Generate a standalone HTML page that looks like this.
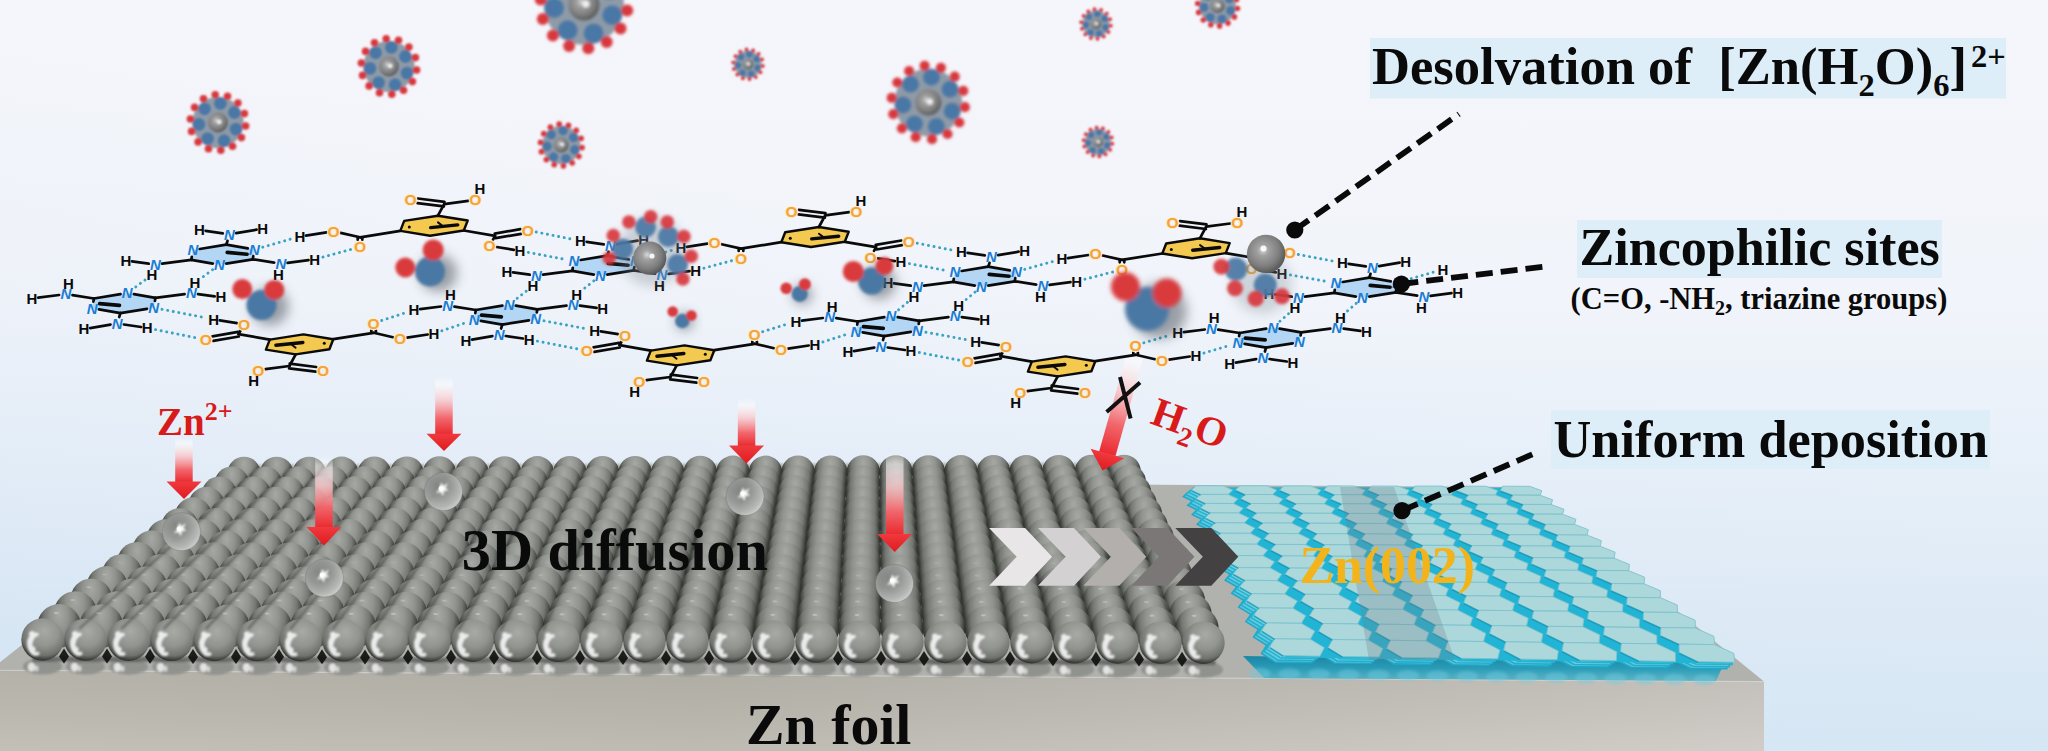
<!DOCTYPE html><html><head><meta charset="utf-8"><title>Zn anode interphase schematic</title><style>html,body{margin:0;padding:0;background:#f6f7fb;overflow:hidden}svg{display:block}</style></head><body><svg width="2048" height="751" viewBox="0 0 2048 751"><defs>
<linearGradient id="bg" x1="0" y1="0" x2="0" y2="1">
<stop offset="0" stop-color="#f5f6fb"/><stop offset="0.4" stop-color="#f1f4fa"/><stop offset="0.6" stop-color="#e8f0f9"/><stop offset="0.8" stop-color="#dfebf6"/><stop offset="1" stop-color="#d7e8f5"/>
</linearGradient>
<linearGradient id="bgl" x1="0" y1="1" x2="0.45" y2="0.3">
<stop offset="0" stop-color="#c4d8ee" stop-opacity="0.3"/><stop offset="0.45" stop-color="#c4d8ee" stop-opacity="0.12"/><stop offset="1" stop-color="#c4d8ee" stop-opacity="0"/>
</linearGradient>
<radialGradient id="sp" cx="0.5" cy="0.3" r="0.62" fx="0.5" fy="0.24" gradientTransform="translate(0.5 0.3) scale(0.8 1.4) translate(-0.5 -0.3)">
<stop offset="0" stop-color="#a6a8a4"/><stop offset="0.4" stop-color="#929490"/><stop offset="0.7" stop-color="#767874"/><stop offset="0.88" stop-color="#525450"/><stop offset="1" stop-color="#343632"/>
</radialGradient>
<radialGradient id="spf" cx="0.55" cy="0.35" r="0.65" fx="0.55" fy="0.3">
<stop offset="0" stop-color="#a8aaa6"/><stop offset="0.5" stop-color="#929490"/><stop offset="0.82" stop-color="#70726e"/><stop offset="1" stop-color="#30322e"/>
</radialGradient>
<radialGradient id="fl" cx="0.36" cy="0.34" r="0.8">
<stop offset="0" stop-color="#848684"/><stop offset="0.4" stop-color="#979997"/><stop offset="0.72" stop-color="#b6b8b6"/><stop offset="1" stop-color="#e2e4e2"/>
</radialGradient>
<radialGradient id="zn" cx="0.42" cy="0.4" r="0.6">
<stop offset="0" stop-color="#d8d8d8"/><stop offset="0.25" stop-color="#a0a0a0"/><stop offset="0.7" stop-color="#7e7e7e"/><stop offset="1" stop-color="#5a5a5a"/>
</radialGradient>
<linearGradient id="ar" x1="0" y1="0" x2="0" y2="1">
<stop offset="0" stop-color="#ffffff" stop-opacity="0"/><stop offset="0.14" stop-color="#ffffff" stop-opacity="0.5"/><stop offset="0.42" stop-color="#f9c4c7" stop-opacity="0.8"/><stop offset="0.72" stop-color="#f26469" stop-opacity="0.97"/><stop offset="1" stop-color="#ea2a30"/>
</linearGradient>
<linearGradient id="arh" x1="0" y1="0" x2="0" y2="1">
<stop offset="0" stop-color="#ef3a3e"/><stop offset="1" stop-color="#e01a20"/>
</linearGradient>
<linearGradient id="front" x1="0" y1="0" x2="1" y2="0">
<stop offset="0" stop-color="#c0bdb4"/><stop offset="0.4" stop-color="#bbb8af"/><stop offset="0.75" stop-color="#c6c3bc"/><stop offset="1" stop-color="#cfccc6"/>
</linearGradient>
<linearGradient id="frontv" x1="0" y1="0" x2="0" y2="1">
<stop offset="0" stop-color="#000" stop-opacity="0.06"/><stop offset="1" stop-color="#fff" stop-opacity="0.08"/>
</linearGradient>
<linearGradient id="band" x1="0" y1="0" x2="0" y2="1"><stop offset="0" stop-color="#1c86a4"/><stop offset="0.5" stop-color="#2a9cb8"/><stop offset="1" stop-color="#4fb4c9" stop-opacity="0.85"/></linearGradient>
<filter id="b1" x="-20%" y="-20%" width="140%" height="140%"><feGaussianBlur stdDeviation="0.9"/></filter>
<filter id="b2" x="-30%" y="-30%" width="160%" height="160%"><feGaussianBlur stdDeviation="2.2"/></filter>
<filter id="b3" x="-30%" y="-30%" width="160%" height="160%"><feGaussianBlur stdDeviation="1.4"/></filter>
<filter id="b6" x="-50%" y="-50%" width="200%" height="200%"><feGaussianBlur stdDeviation="6"/></filter>
</defs>
<rect width="2048" height="751" fill="url(#bg)"/><rect width="2048" height="751" fill="url(#bgl)"/>
<g filter="url(#b3)"><circle cx="584" cy="5" r="40" fill="#8592a0" opacity="0.92"/><circle cx="612.2" cy="15.3" r="10" fill="#4878a6"/><circle cx="593.6" cy="33.4" r="10" fill="#4878a6"/><circle cx="567.7" cy="30.2" r="10" fill="#4878a6"/><circle cx="554.1" cy="8" r="10" fill="#4878a6"/><circle cx="563.1" cy="-16.5" r="10" fill="#4878a6"/><circle cx="587.7" cy="-24.8" r="10" fill="#4878a6"/><circle cx="609.6" cy="-10.6" r="10" fill="#4878a6"/><circle cx="627.2" cy="10.4" r="6" fill="#d8383c"/><circle cx="620.5" cy="28.6" r="6" fill="#d8383c"/><circle cx="606.7" cy="42.1" r="6" fill="#d8383c"/><circle cx="588.3" cy="48.3" r="6" fill="#d8383c"/><circle cx="569.1" cy="45.9" r="6" fill="#d8383c"/><circle cx="552.9" cy="35.4" r="6" fill="#d8383c"/><circle cx="542.8" cy="18.9" r="6" fill="#d8383c"/><circle cx="540.8" cy="-0.4" r="6" fill="#d8383c"/><circle cx="547.5" cy="-18.6" r="6" fill="#d8383c"/><circle cx="561.3" cy="-32.1" r="6" fill="#d8383c"/><circle cx="579.7" cy="-38.3" r="6" fill="#d8383c"/><circle cx="598.9" cy="-35.9" r="6" fill="#d8383c"/><circle cx="615.1" cy="-25.4" r="6" fill="#d8383c"/><circle cx="625.2" cy="-8.9" r="6" fill="#d8383c"/><circle cx="584" cy="5" r="15.5" fill="url(#zn)"/><circle cx="586" cy="4" r="3.5" fill="#fff" opacity="0.85"/></g>
<g filter="url(#b1)"><circle cx="218" cy="122.5" r="25.6" fill="#8592a0" opacity="0.92"/><circle cx="236" cy="129.1" r="6.4" fill="#4878a6"/><circle cx="224.1" cy="140.7" r="6.4" fill="#4878a6"/><circle cx="207.6" cy="138.6" r="6.4" fill="#4878a6"/><circle cx="198.9" cy="124.4" r="6.4" fill="#4878a6"/><circle cx="204.6" cy="108.8" r="6.4" fill="#4878a6"/><circle cx="220.4" cy="103.4" r="6.4" fill="#4878a6"/><circle cx="234.4" cy="112.5" r="6.4" fill="#4878a6"/><circle cx="245.6" cy="126" r="3.8" fill="#d8383c"/><circle cx="241.4" cy="137.6" r="3.8" fill="#d8383c"/><circle cx="232.5" cy="146.3" r="3.8" fill="#d8383c"/><circle cx="220.8" cy="150.2" r="3.8" fill="#d8383c"/><circle cx="208.5" cy="148.7" r="3.8" fill="#d8383c"/><circle cx="198.1" cy="141.9" r="3.8" fill="#d8383c"/><circle cx="191.6" cy="131.4" r="3.8" fill="#d8383c"/><circle cx="190.4" cy="119" r="3.8" fill="#d8383c"/><circle cx="194.6" cy="107.4" r="3.8" fill="#d8383c"/><circle cx="203.5" cy="98.7" r="3.8" fill="#d8383c"/><circle cx="215.2" cy="94.8" r="3.8" fill="#d8383c"/><circle cx="227.5" cy="96.3" r="3.8" fill="#d8383c"/><circle cx="237.9" cy="103.1" r="3.8" fill="#d8383c"/><circle cx="244.4" cy="113.6" r="3.8" fill="#d8383c"/><circle cx="218" cy="122.5" r="9.9" fill="url(#zn)"/><circle cx="219.3" cy="121.9" r="2.2" fill="#fff" opacity="0.85"/></g>
<g filter="url(#b1)"><circle cx="389" cy="66.5" r="25.6" fill="#8592a0" opacity="0.92"/><circle cx="407" cy="73.1" r="6.4" fill="#4878a6"/><circle cx="395.1" cy="84.7" r="6.4" fill="#4878a6"/><circle cx="378.6" cy="82.6" r="6.4" fill="#4878a6"/><circle cx="369.9" cy="68.4" r="6.4" fill="#4878a6"/><circle cx="375.6" cy="52.8" r="6.4" fill="#4878a6"/><circle cx="391.4" cy="47.4" r="6.4" fill="#4878a6"/><circle cx="405.4" cy="56.5" r="6.4" fill="#4878a6"/><circle cx="416.6" cy="70" r="3.8" fill="#d8383c"/><circle cx="412.4" cy="81.6" r="3.8" fill="#d8383c"/><circle cx="403.5" cy="90.3" r="3.8" fill="#d8383c"/><circle cx="391.8" cy="94.2" r="3.8" fill="#d8383c"/><circle cx="379.5" cy="92.7" r="3.8" fill="#d8383c"/><circle cx="369.1" cy="85.9" r="3.8" fill="#d8383c"/><circle cx="362.6" cy="75.4" r="3.8" fill="#d8383c"/><circle cx="361.4" cy="63" r="3.8" fill="#d8383c"/><circle cx="365.6" cy="51.4" r="3.8" fill="#d8383c"/><circle cx="374.5" cy="42.7" r="3.8" fill="#d8383c"/><circle cx="386.2" cy="38.8" r="3.8" fill="#d8383c"/><circle cx="398.5" cy="40.3" r="3.8" fill="#d8383c"/><circle cx="408.9" cy="47.1" r="3.8" fill="#d8383c"/><circle cx="415.4" cy="57.6" r="3.8" fill="#d8383c"/><circle cx="389" cy="66.5" r="9.9" fill="url(#zn)"/><circle cx="390.3" cy="65.9" r="2.2" fill="#fff" opacity="0.85"/></g>
<g filter="url(#b1)"><circle cx="748" cy="64.3" r="13.6" fill="#8592a0" opacity="0.92"/><circle cx="757.6" cy="67.8" r="3.4" fill="#4878a6"/><circle cx="751.2" cy="74" r="3.4" fill="#4878a6"/><circle cx="742.5" cy="72.9" r="3.4" fill="#4878a6"/><circle cx="737.9" cy="65.3" r="3.4" fill="#4878a6"/><circle cx="740.9" cy="57" r="3.4" fill="#4878a6"/><circle cx="749.3" cy="54.2" r="3.4" fill="#4878a6"/><circle cx="756.7" cy="59" r="3.4" fill="#4878a6"/><circle cx="762.7" cy="66.1" r="2" fill="#d8383c"/><circle cx="760.4" cy="72.3" r="2" fill="#d8383c"/><circle cx="755.7" cy="76.9" r="2" fill="#d8383c"/><circle cx="749.5" cy="79" r="2" fill="#d8383c"/><circle cx="742.9" cy="78.2" r="2" fill="#d8383c"/><circle cx="737.4" cy="74.6" r="2" fill="#d8383c"/><circle cx="734" cy="69" r="2" fill="#d8383c"/><circle cx="733.3" cy="62.5" r="2" fill="#d8383c"/><circle cx="735.6" cy="56.3" r="2" fill="#d8383c"/><circle cx="740.3" cy="51.7" r="2" fill="#d8383c"/><circle cx="746.5" cy="49.6" r="2" fill="#d8383c"/><circle cx="753.1" cy="50.4" r="2" fill="#d8383c"/><circle cx="758.6" cy="54" r="2" fill="#d8383c"/><circle cx="762" cy="59.6" r="2" fill="#d8383c"/><circle cx="748" cy="64.3" r="5.3" fill="url(#zn)"/><circle cx="748.7" cy="64" r="1.2" fill="#fff" opacity="0.85"/></g>
<g filter="url(#b1)"><circle cx="561.3" cy="145" r="19.2" fill="#8592a0" opacity="0.92"/><circle cx="574.8" cy="149.9" r="4.8" fill="#4878a6"/><circle cx="565.9" cy="158.7" r="4.8" fill="#4878a6"/><circle cx="553.5" cy="157.1" r="4.8" fill="#4878a6"/><circle cx="547" cy="146.4" r="4.8" fill="#4878a6"/><circle cx="551.2" cy="134.7" r="4.8" fill="#4878a6"/><circle cx="563.1" cy="130.7" r="4.8" fill="#4878a6"/><circle cx="573.6" cy="137.5" r="4.8" fill="#4878a6"/><circle cx="582" cy="147.6" r="2.9" fill="#d8383c"/><circle cx="578.8" cy="156.3" r="2.9" fill="#d8383c"/><circle cx="572.2" cy="162.8" r="2.9" fill="#d8383c"/><circle cx="563.4" cy="165.8" r="2.9" fill="#d8383c"/><circle cx="554.2" cy="164.6" r="2.9" fill="#d8383c"/><circle cx="546.4" cy="159.6" r="2.9" fill="#d8383c"/><circle cx="541.5" cy="151.7" r="2.9" fill="#d8383c"/><circle cx="540.6" cy="142.4" r="2.9" fill="#d8383c"/><circle cx="543.8" cy="133.7" r="2.9" fill="#d8383c"/><circle cx="550.4" cy="127.2" r="2.9" fill="#d8383c"/><circle cx="559.2" cy="124.2" r="2.9" fill="#d8383c"/><circle cx="568.4" cy="125.4" r="2.9" fill="#d8383c"/><circle cx="576.2" cy="130.4" r="2.9" fill="#d8383c"/><circle cx="581.1" cy="138.3" r="2.9" fill="#d8383c"/><circle cx="561.3" cy="145" r="7.4" fill="url(#zn)"/><circle cx="562.3" cy="144.5" r="1.7" fill="#fff" opacity="0.85"/></g>
<g filter="url(#b3)"><circle cx="928.3" cy="102.5" r="33.9" fill="#8592a0" opacity="0.92"/><circle cx="952.2" cy="111.2" r="8.5" fill="#4878a6"/><circle cx="936.4" cy="126.6" r="8.5" fill="#4878a6"/><circle cx="914.5" cy="123.9" r="8.5" fill="#4878a6"/><circle cx="903" cy="105" r="8.5" fill="#4878a6"/><circle cx="910.5" cy="84.3" r="8.5" fill="#4878a6"/><circle cx="931.5" cy="77.3" r="8.5" fill="#4878a6"/><circle cx="950" cy="89.2" r="8.5" fill="#4878a6"/><circle cx="964.9" cy="107.1" r="5.1" fill="#d8383c"/><circle cx="959.3" cy="122.5" r="5.1" fill="#d8383c"/><circle cx="947.5" cy="134" r="5.1" fill="#d8383c"/><circle cx="932" cy="139.2" r="5.1" fill="#d8383c"/><circle cx="915.7" cy="137.2" r="5.1" fill="#d8383c"/><circle cx="901.9" cy="128.3" r="5.1" fill="#d8383c"/><circle cx="893.3" cy="114.2" r="5.1" fill="#d8383c"/><circle cx="891.7" cy="97.9" r="5.1" fill="#d8383c"/><circle cx="897.3" cy="82.5" r="5.1" fill="#d8383c"/><circle cx="909.1" cy="71" r="5.1" fill="#d8383c"/><circle cx="924.6" cy="65.8" r="5.1" fill="#d8383c"/><circle cx="940.9" cy="67.8" r="5.1" fill="#d8383c"/><circle cx="954.7" cy="76.7" r="5.1" fill="#d8383c"/><circle cx="963.3" cy="90.8" r="5.1" fill="#d8383c"/><circle cx="928.3" cy="102.5" r="13.1" fill="url(#zn)"/><circle cx="930" cy="101.7" r="3" fill="#fff" opacity="0.85"/></g>
<g filter="url(#b1)"><circle cx="1098" cy="142" r="13.2" fill="#8592a0" opacity="0.92"/><circle cx="1107.3" cy="145.4" r="3.3" fill="#4878a6"/><circle cx="1101.2" cy="151.4" r="3.3" fill="#4878a6"/><circle cx="1092.6" cy="150.3" r="3.3" fill="#4878a6"/><circle cx="1088.1" cy="143" r="3.3" fill="#4878a6"/><circle cx="1091.1" cy="134.9" r="3.3" fill="#4878a6"/><circle cx="1099.2" cy="132.2" r="3.3" fill="#4878a6"/><circle cx="1106.4" cy="136.8" r="3.3" fill="#4878a6"/><circle cx="1112.2" cy="143.8" r="2" fill="#d8383c"/><circle cx="1110.1" cy="149.8" r="2" fill="#d8383c"/><circle cx="1105.5" cy="154.2" r="2" fill="#d8383c"/><circle cx="1099.4" cy="156.3" r="2" fill="#d8383c"/><circle cx="1093.1" cy="155.5" r="2" fill="#d8383c"/><circle cx="1087.7" cy="152" r="2" fill="#d8383c"/><circle cx="1084.4" cy="146.6" r="2" fill="#d8383c"/><circle cx="1083.8" cy="140.2" r="2" fill="#d8383c"/><circle cx="1085.9" cy="134.2" r="2" fill="#d8383c"/><circle cx="1090.5" cy="129.8" r="2" fill="#d8383c"/><circle cx="1096.6" cy="127.7" r="2" fill="#d8383c"/><circle cx="1102.9" cy="128.5" r="2" fill="#d8383c"/><circle cx="1108.3" cy="132" r="2" fill="#d8383c"/><circle cx="1111.6" cy="137.4" r="2" fill="#d8383c"/><circle cx="1098" cy="142" r="5.1" fill="url(#zn)"/><circle cx="1098.7" cy="141.7" r="1.2" fill="#fff" opacity="0.85"/></g>
<g filter="url(#b1)"><circle cx="1096" cy="24" r="13.6" fill="#8592a0" opacity="0.92"/><circle cx="1105.6" cy="27.5" r="3.4" fill="#4878a6"/><circle cx="1099.2" cy="33.7" r="3.4" fill="#4878a6"/><circle cx="1090.5" cy="32.6" r="3.4" fill="#4878a6"/><circle cx="1085.9" cy="25" r="3.4" fill="#4878a6"/><circle cx="1088.9" cy="16.7" r="3.4" fill="#4878a6"/><circle cx="1097.3" cy="13.9" r="3.4" fill="#4878a6"/><circle cx="1104.7" cy="18.7" r="3.4" fill="#4878a6"/><circle cx="1110.7" cy="25.8" r="2" fill="#d8383c"/><circle cx="1108.4" cy="32" r="2" fill="#d8383c"/><circle cx="1103.7" cy="36.6" r="2" fill="#d8383c"/><circle cx="1097.5" cy="38.7" r="2" fill="#d8383c"/><circle cx="1090.9" cy="37.9" r="2" fill="#d8383c"/><circle cx="1085.4" cy="34.3" r="2" fill="#d8383c"/><circle cx="1082" cy="28.7" r="2" fill="#d8383c"/><circle cx="1081.3" cy="22.2" r="2" fill="#d8383c"/><circle cx="1083.6" cy="16" r="2" fill="#d8383c"/><circle cx="1088.3" cy="11.4" r="2" fill="#d8383c"/><circle cx="1094.5" cy="9.3" r="2" fill="#d8383c"/><circle cx="1101.1" cy="10.1" r="2" fill="#d8383c"/><circle cx="1106.6" cy="13.7" r="2" fill="#d8383c"/><circle cx="1110" cy="19.3" r="2" fill="#d8383c"/><circle cx="1096" cy="24" r="5.3" fill="url(#zn)"/><circle cx="1096.7" cy="23.7" r="1.2" fill="#fff" opacity="0.85"/></g>
<g filter="url(#b1)"><circle cx="1217.6" cy="6" r="18.4" fill="#8592a0" opacity="0.92"/><circle cx="1230.6" cy="10.7" r="4.6" fill="#4878a6"/><circle cx="1222" cy="19.1" r="4.6" fill="#4878a6"/><circle cx="1210.1" cy="17.6" r="4.6" fill="#4878a6"/><circle cx="1203.9" cy="7.4" r="4.6" fill="#4878a6"/><circle cx="1208" cy="-3.9" r="4.6" fill="#4878a6"/><circle cx="1219.3" cy="-7.7" r="4.6" fill="#4878a6"/><circle cx="1229.4" cy="-1.2" r="4.6" fill="#4878a6"/><circle cx="1237.5" cy="8.5" r="2.8" fill="#d8383c"/><circle cx="1234.4" cy="16.9" r="2.8" fill="#d8383c"/><circle cx="1228" cy="23.1" r="2.8" fill="#d8383c"/><circle cx="1219.6" cy="25.9" r="2.8" fill="#d8383c"/><circle cx="1210.8" cy="24.8" r="2.8" fill="#d8383c"/><circle cx="1203.3" cy="20" r="2.8" fill="#d8383c"/><circle cx="1198.6" cy="12.4" r="2.8" fill="#d8383c"/><circle cx="1197.7" cy="3.5" r="2.8" fill="#d8383c"/><circle cx="1200.8" cy="-4.9" r="2.8" fill="#d8383c"/><circle cx="1207.2" cy="-11.1" r="2.8" fill="#d8383c"/><circle cx="1215.6" cy="-13.9" r="2.8" fill="#d8383c"/><circle cx="1224.4" cy="-12.8" r="2.8" fill="#d8383c"/><circle cx="1231.9" cy="-8" r="2.8" fill="#d8383c"/><circle cx="1236.6" cy="-0.4" r="2.8" fill="#d8383c"/><circle cx="1217.6" cy="6" r="7.1" fill="url(#zn)"/><circle cx="1218.5" cy="5.5" r="1.6" fill="#fff" opacity="0.85"/></g>
<g id="slab">
<polygon points="-10,670.2 1764,681.6 1525,487 1120,484.5 230,480" fill="#b1b1ad"/>
<polygon points="-10,670.2 1764,681.6 1764,760 -10,760" fill="url(#front)"/>
<polygon points="-10,670.2 1764,681.6 1764,760 -10,760" fill="url(#frontv)"/>
<polyline points="-10,670.2 1764,681.6" stroke="#d6d5d0" stroke-width="1.2" fill="none" opacity="0.7"/>
<g filter="url(#b1)" opacity="0.92"><ellipse cx="42.5" cy="666.5" rx="19.5" ry="8" fill="#8e908c"/><ellipse cx="31.5" cy="667" rx="3.6" ry="4.6" fill="#f2f2f2" opacity="0.9"/><ellipse cx="36.5" cy="668.5" rx="2" ry="3" fill="#f2f2f2" opacity="0.7"/><ellipse cx="85.5" cy="666.6" rx="19.5" ry="8" fill="#8e908c"/><ellipse cx="74.5" cy="667.1" rx="3.6" ry="4.6" fill="#f2f2f2" opacity="0.9"/><ellipse cx="79.5" cy="668.6" rx="2" ry="3" fill="#f2f2f2" opacity="0.7"/><ellipse cx="128.5" cy="666.7" rx="19.5" ry="8" fill="#8e908c"/><ellipse cx="117.5" cy="667.2" rx="3.6" ry="4.6" fill="#f2f2f2" opacity="0.9"/><ellipse cx="122.5" cy="668.7" rx="2" ry="3" fill="#f2f2f2" opacity="0.7"/><ellipse cx="171.5" cy="666.8" rx="19.5" ry="8" fill="#8e908c"/><ellipse cx="160.5" cy="667.3" rx="3.6" ry="4.6" fill="#f2f2f2" opacity="0.9"/><ellipse cx="165.5" cy="668.8" rx="2" ry="3" fill="#f2f2f2" opacity="0.7"/><ellipse cx="214.5" cy="667" rx="19.5" ry="8" fill="#8e908c"/><ellipse cx="203.5" cy="667.5" rx="3.6" ry="4.6" fill="#f2f2f2" opacity="0.9"/><ellipse cx="208.5" cy="669" rx="2" ry="3" fill="#f2f2f2" opacity="0.7"/><ellipse cx="257.5" cy="667.1" rx="19.5" ry="8" fill="#8e908c"/><ellipse cx="246.5" cy="667.6" rx="3.6" ry="4.6" fill="#f2f2f2" opacity="0.9"/><ellipse cx="251.5" cy="669.1" rx="2" ry="3" fill="#f2f2f2" opacity="0.7"/><ellipse cx="300.5" cy="667.2" rx="19.5" ry="8" fill="#8e908c"/><ellipse cx="289.5" cy="667.7" rx="3.6" ry="4.6" fill="#f2f2f2" opacity="0.9"/><ellipse cx="294.5" cy="669.2" rx="2" ry="3" fill="#f2f2f2" opacity="0.7"/><ellipse cx="343.5" cy="667.3" rx="19.5" ry="8" fill="#8e908c"/><ellipse cx="332.5" cy="667.8" rx="3.6" ry="4.6" fill="#f2f2f2" opacity="0.9"/><ellipse cx="337.5" cy="669.3" rx="2" ry="3" fill="#f2f2f2" opacity="0.7"/><ellipse cx="386.5" cy="667.4" rx="19.5" ry="8" fill="#8e908c"/><ellipse cx="375.5" cy="667.9" rx="3.6" ry="4.6" fill="#f2f2f2" opacity="0.9"/><ellipse cx="380.5" cy="669.4" rx="2" ry="3" fill="#f2f2f2" opacity="0.7"/><ellipse cx="429.5" cy="667.6" rx="19.5" ry="8" fill="#8e908c"/><ellipse cx="418.5" cy="668.1" rx="3.6" ry="4.6" fill="#f2f2f2" opacity="0.9"/><ellipse cx="423.5" cy="669.6" rx="2" ry="3" fill="#f2f2f2" opacity="0.7"/><ellipse cx="472.5" cy="667.7" rx="19.5" ry="8" fill="#8e908c"/><ellipse cx="461.5" cy="668.2" rx="3.6" ry="4.6" fill="#f2f2f2" opacity="0.9"/><ellipse cx="466.5" cy="669.7" rx="2" ry="3" fill="#f2f2f2" opacity="0.7"/><ellipse cx="515.5" cy="667.8" rx="19.5" ry="8" fill="#8e908c"/><ellipse cx="504.5" cy="668.3" rx="3.6" ry="4.6" fill="#f2f2f2" opacity="0.9"/><ellipse cx="509.5" cy="669.8" rx="2" ry="3" fill="#f2f2f2" opacity="0.7"/><ellipse cx="558.5" cy="667.9" rx="19.5" ry="8" fill="#8e908c"/><ellipse cx="547.5" cy="668.4" rx="3.6" ry="4.6" fill="#f2f2f2" opacity="0.9"/><ellipse cx="552.5" cy="669.9" rx="2" ry="3" fill="#f2f2f2" opacity="0.7"/><ellipse cx="601.5" cy="668" rx="19.5" ry="8" fill="#8e908c"/><ellipse cx="590.5" cy="668.5" rx="3.6" ry="4.6" fill="#f2f2f2" opacity="0.9"/><ellipse cx="595.5" cy="670" rx="2" ry="3" fill="#f2f2f2" opacity="0.7"/><ellipse cx="644.5" cy="668.2" rx="19.5" ry="8" fill="#8e908c"/><ellipse cx="633.5" cy="668.7" rx="3.6" ry="4.6" fill="#f2f2f2" opacity="0.9"/><ellipse cx="638.5" cy="670.2" rx="2" ry="3" fill="#f2f2f2" opacity="0.7"/><ellipse cx="687.5" cy="668.3" rx="19.5" ry="8" fill="#8e908c"/><ellipse cx="676.5" cy="668.8" rx="3.6" ry="4.6" fill="#f2f2f2" opacity="0.9"/><ellipse cx="681.5" cy="670.3" rx="2" ry="3" fill="#f2f2f2" opacity="0.7"/><ellipse cx="730.5" cy="668.4" rx="19.5" ry="8" fill="#8e908c"/><ellipse cx="719.5" cy="668.9" rx="3.6" ry="4.6" fill="#f2f2f2" opacity="0.9"/><ellipse cx="724.5" cy="670.4" rx="2" ry="3" fill="#f2f2f2" opacity="0.7"/><ellipse cx="773.5" cy="668.5" rx="19.5" ry="8" fill="#8e908c"/><ellipse cx="762.5" cy="669" rx="3.6" ry="4.6" fill="#f2f2f2" opacity="0.9"/><ellipse cx="767.5" cy="670.5" rx="2" ry="3" fill="#f2f2f2" opacity="0.7"/><ellipse cx="816.5" cy="668.6" rx="19.5" ry="8" fill="#8e908c"/><ellipse cx="805.5" cy="669.1" rx="3.6" ry="4.6" fill="#f2f2f2" opacity="0.9"/><ellipse cx="810.5" cy="670.6" rx="2" ry="3" fill="#f2f2f2" opacity="0.7"/><ellipse cx="859.5" cy="668.8" rx="19.5" ry="8" fill="#8e908c"/><ellipse cx="848.5" cy="669.3" rx="3.6" ry="4.6" fill="#f2f2f2" opacity="0.9"/><ellipse cx="853.5" cy="670.8" rx="2" ry="3" fill="#f2f2f2" opacity="0.7"/><ellipse cx="902.5" cy="668.9" rx="19.5" ry="8" fill="#8e908c"/><ellipse cx="891.5" cy="669.4" rx="3.6" ry="4.6" fill="#f2f2f2" opacity="0.9"/><ellipse cx="896.5" cy="670.9" rx="2" ry="3" fill="#f2f2f2" opacity="0.7"/><ellipse cx="945.5" cy="669" rx="19.5" ry="8" fill="#8e908c"/><ellipse cx="934.5" cy="669.5" rx="3.6" ry="4.6" fill="#f2f2f2" opacity="0.9"/><ellipse cx="939.5" cy="671" rx="2" ry="3" fill="#f2f2f2" opacity="0.7"/><ellipse cx="988.5" cy="669.1" rx="19.5" ry="8" fill="#8e908c"/><ellipse cx="977.5" cy="669.6" rx="3.6" ry="4.6" fill="#f2f2f2" opacity="0.9"/><ellipse cx="982.5" cy="671.1" rx="2" ry="3" fill="#f2f2f2" opacity="0.7"/><ellipse cx="1031.5" cy="669.2" rx="19.5" ry="8" fill="#8e908c"/><ellipse cx="1020.5" cy="669.7" rx="3.6" ry="4.6" fill="#f2f2f2" opacity="0.9"/><ellipse cx="1025.5" cy="671.2" rx="2" ry="3" fill="#f2f2f2" opacity="0.7"/><ellipse cx="1074.5" cy="669.4" rx="19.5" ry="8" fill="#8e908c"/><ellipse cx="1063.5" cy="669.9" rx="3.6" ry="4.6" fill="#f2f2f2" opacity="0.9"/><ellipse cx="1068.5" cy="671.4" rx="2" ry="3" fill="#f2f2f2" opacity="0.7"/><ellipse cx="1117.5" cy="669.5" rx="19.5" ry="8" fill="#8e908c"/><ellipse cx="1106.5" cy="670" rx="3.6" ry="4.6" fill="#f2f2f2" opacity="0.9"/><ellipse cx="1111.5" cy="671.5" rx="2" ry="3" fill="#f2f2f2" opacity="0.7"/><ellipse cx="1160.5" cy="669.6" rx="19.5" ry="8" fill="#8e908c"/><ellipse cx="1149.5" cy="670.1" rx="3.6" ry="4.6" fill="#f2f2f2" opacity="0.9"/><ellipse cx="1154.5" cy="671.6" rx="2" ry="3" fill="#f2f2f2" opacity="0.7"/><ellipse cx="1203.5" cy="669.7" rx="19.5" ry="8" fill="#8e908c"/><ellipse cx="1192.5" cy="670.2" rx="3.6" ry="4.6" fill="#f2f2f2" opacity="0.9"/><ellipse cx="1197.5" cy="671.7" rx="2" ry="3" fill="#f2f2f2" opacity="0.7"/></g>
<polygon points="32.5,656.4 1215.5,659.8 1215.5,664.8 32.5,661.4" fill="#2a2c2a" opacity="0.5" filter="url(#b1)"/>
<g fill="url(#sp)"><circle cx="244" cy="473.6" r="16.8"/><circle cx="276.6" cy="473.5" r="16.8"/><circle cx="309.2" cy="473.5" r="16.8"/><circle cx="341.7" cy="473.4" r="16.8"/><circle cx="374.3" cy="473.3" r="16.8"/><circle cx="406.9" cy="473.2" r="16.8"/><circle cx="439.5" cy="473.1" r="16.8"/><circle cx="472.1" cy="473.1" r="16.8"/><circle cx="504.7" cy="473" r="16.8"/><circle cx="537.3" cy="472.9" r="16.8"/><circle cx="569.9" cy="472.8" r="16.8"/><circle cx="602.5" cy="472.8" r="16.8"/><circle cx="635.1" cy="472.7" r="16.8"/><circle cx="667.7" cy="472.6" r="16.8"/><circle cx="700.3" cy="472.5" r="16.8"/><circle cx="732.9" cy="472.4" r="16.8"/><circle cx="765.5" cy="472.4" r="16.8"/><circle cx="798.1" cy="472.3" r="16.8"/><circle cx="830.7" cy="472.2" r="16.8"/><circle cx="863.3" cy="472.1" r="16.8"/><circle cx="895.8" cy="472" r="16.8"/><circle cx="928.4" cy="472" r="16.8"/><circle cx="961" cy="471.9" r="16.8"/><circle cx="993.6" cy="471.8" r="16.8"/><circle cx="1026.2" cy="471.7" r="16.8"/><circle cx="1058.8" cy="471.7" r="16.8"/><circle cx="1091.4" cy="471.6" r="16.8"/><circle cx="1124" cy="471.5" r="16.8"/></g>
<g fill="url(#sp)"><circle cx="231.8" cy="483.7" r="17.2"/><circle cx="265" cy="483.6" r="17.2"/><circle cx="298.3" cy="483.5" r="17.2"/><circle cx="331.5" cy="483.5" r="17.2"/><circle cx="364.7" cy="483.4" r="17.2"/><circle cx="397.9" cy="483.3" r="17.2"/><circle cx="431.1" cy="483.3" r="17.2"/><circle cx="464.4" cy="483.2" r="17.2"/><circle cx="497.6" cy="483.1" r="17.2"/><circle cx="530.8" cy="483" r="17.2"/><circle cx="564" cy="483" r="17.2"/><circle cx="597.3" cy="482.9" r="17.2"/><circle cx="630.5" cy="482.8" r="17.2"/><circle cx="663.7" cy="482.8" r="17.2"/><circle cx="696.9" cy="482.7" r="17.2"/><circle cx="730.1" cy="482.6" r="17.2"/><circle cx="763.4" cy="482.6" r="17.2"/><circle cx="796.6" cy="482.5" r="17.2"/><circle cx="829.8" cy="482.4" r="17.2"/><circle cx="863" cy="482.4" r="17.2"/><circle cx="896.2" cy="482.3" r="17.2"/><circle cx="929.5" cy="482.2" r="17.2"/><circle cx="962.7" cy="482.1" r="17.2"/><circle cx="995.9" cy="482.1" r="17.2"/><circle cx="1029.1" cy="482" r="17.2"/><circle cx="1062.4" cy="481.9" r="17.2"/><circle cx="1095.6" cy="481.9" r="17.2"/><circle cx="1128.8" cy="481.8" r="17.2"/></g>
<g fill="url(#sp)"><circle cx="219.3" cy="494" r="17.5"/><circle cx="253.2" cy="493.9" r="17.5"/><circle cx="287.1" cy="493.9" r="17.5"/><circle cx="320.9" cy="493.8" r="17.5"/><circle cx="354.8" cy="493.8" r="17.5"/><circle cx="388.7" cy="493.7" r="17.5"/><circle cx="422.5" cy="493.6" r="17.5"/><circle cx="456.4" cy="493.6" r="17.5"/><circle cx="490.3" cy="493.5" r="17.5"/><circle cx="524.1" cy="493.5" r="17.5"/><circle cx="558" cy="493.4" r="17.5"/><circle cx="591.9" cy="493.3" r="17.5"/><circle cx="625.7" cy="493.3" r="17.5"/><circle cx="659.6" cy="493.2" r="17.5"/><circle cx="693.5" cy="493.2" r="17.5"/><circle cx="727.3" cy="493.1" r="17.5"/><circle cx="761.2" cy="493.1" r="17.5"/><circle cx="795.1" cy="493" r="17.5"/><circle cx="828.9" cy="492.9" r="17.5"/><circle cx="862.8" cy="492.9" r="17.5"/><circle cx="896.7" cy="492.8" r="17.5"/><circle cx="930.5" cy="492.8" r="17.5"/><circle cx="964.4" cy="492.7" r="17.5"/><circle cx="998.3" cy="492.6" r="17.5"/><circle cx="1032.1" cy="492.6" r="17.5"/><circle cx="1066" cy="492.5" r="17.5"/><circle cx="1099.9" cy="492.5" r="17.5"/><circle cx="1133.7" cy="492.4" r="17.5"/></g>
<g fill="url(#sp)"><circle cx="206.5" cy="504.6" r="17.8"/><circle cx="241" cy="504.6" r="17.8"/><circle cx="275.6" cy="504.5" r="17.8"/><circle cx="310.1" cy="504.5" r="17.8"/><circle cx="344.6" cy="504.4" r="17.8"/><circle cx="379.1" cy="504.4" r="17.8"/><circle cx="413.7" cy="504.3" r="17.8"/><circle cx="448.2" cy="504.3" r="17.8"/><circle cx="482.7" cy="504.2" r="17.8"/><circle cx="517.3" cy="504.2" r="17.8"/><circle cx="551.8" cy="504.1" r="17.8"/><circle cx="586.3" cy="504.1" r="17.8"/><circle cx="620.8" cy="504" r="17.8"/><circle cx="655.4" cy="504" r="17.8"/><circle cx="689.9" cy="503.9" r="17.8"/><circle cx="724.4" cy="503.9" r="17.8"/><circle cx="759" cy="503.8" r="17.8"/><circle cx="793.5" cy="503.8" r="17.8"/><circle cx="828" cy="503.7" r="17.8"/><circle cx="862.6" cy="503.7" r="17.8"/><circle cx="897.1" cy="503.6" r="17.8"/><circle cx="931.6" cy="503.6" r="17.8"/><circle cx="966.1" cy="503.5" r="17.8"/><circle cx="1000.7" cy="503.5" r="17.8"/><circle cx="1035.2" cy="503.4" r="17.8"/><circle cx="1069.7" cy="503.4" r="17.8"/><circle cx="1104.3" cy="503.3" r="17.8"/><circle cx="1138.8" cy="503.3" r="17.8"/></g>
<g fill="url(#sp)"><circle cx="193.3" cy="515.5" r="18.2"/><circle cx="228.5" cy="515.5" r="18.2"/><circle cx="263.7" cy="515.4" r="18.2"/><circle cx="298.9" cy="515.4" r="18.2"/><circle cx="334.2" cy="515.4" r="18.2"/><circle cx="369.4" cy="515.3" r="18.2"/><circle cx="404.6" cy="515.3" r="18.2"/><circle cx="439.8" cy="515.2" r="18.2"/><circle cx="475" cy="515.2" r="18.2"/><circle cx="510.2" cy="515.2" r="18.2"/><circle cx="545.4" cy="515.1" r="18.2"/><circle cx="580.6" cy="515.1" r="18.2"/><circle cx="615.8" cy="515" r="18.2"/><circle cx="651" cy="515" r="18.2"/><circle cx="686.3" cy="515" r="18.2"/><circle cx="721.5" cy="514.9" r="18.2"/><circle cx="756.7" cy="514.9" r="18.2"/><circle cx="791.9" cy="514.9" r="18.2"/><circle cx="827.1" cy="514.8" r="18.2"/><circle cx="862.3" cy="514.8" r="18.2"/><circle cx="897.5" cy="514.7" r="18.2"/><circle cx="932.7" cy="514.7" r="18.2"/><circle cx="967.9" cy="514.7" r="18.2"/><circle cx="1003.1" cy="514.6" r="18.2"/><circle cx="1038.4" cy="514.6" r="18.2"/><circle cx="1073.6" cy="514.5" r="18.2"/><circle cx="1108.8" cy="514.5" r="18.2"/><circle cx="1144" cy="514.5" r="18.2"/></g>
<g fill="url(#sp)"><circle cx="179.8" cy="526.7" r="18.5"/><circle cx="215.7" cy="526.6" r="18.5"/><circle cx="251.6" cy="526.6" r="18.5"/><circle cx="287.5" cy="526.6" r="18.5"/><circle cx="323.4" cy="526.6" r="18.5"/><circle cx="359.3" cy="526.5" r="18.5"/><circle cx="395.2" cy="526.5" r="18.5"/><circle cx="431.2" cy="526.5" r="18.5"/><circle cx="467.1" cy="526.5" r="18.5"/><circle cx="503" cy="526.4" r="18.5"/><circle cx="538.9" cy="526.4" r="18.5"/><circle cx="574.8" cy="526.4" r="18.5"/><circle cx="610.7" cy="526.4" r="18.5"/><circle cx="646.6" cy="526.3" r="18.5"/><circle cx="682.5" cy="526.3" r="18.5"/><circle cx="718.4" cy="526.3" r="18.5"/><circle cx="754.3" cy="526.2" r="18.5"/><circle cx="790.2" cy="526.2" r="18.5"/><circle cx="826.1" cy="526.2" r="18.5"/><circle cx="862.1" cy="526.2" r="18.5"/><circle cx="898" cy="526.1" r="18.5"/><circle cx="933.9" cy="526.1" r="18.5"/><circle cx="969.8" cy="526.1" r="18.5"/><circle cx="1005.7" cy="526.1" r="18.5"/><circle cx="1041.6" cy="526" r="18.5"/><circle cx="1077.5" cy="526" r="18.5"/><circle cx="1113.4" cy="526" r="18.5"/><circle cx="1149.3" cy="526" r="18.5"/></g>
<g fill="url(#sp)"><circle cx="165.9" cy="538.1" r="18.9"/><circle cx="202.5" cy="538.1" r="18.9"/><circle cx="239.2" cy="538.1" r="18.9"/><circle cx="275.8" cy="538.1" r="18.9"/><circle cx="312.4" cy="538.1" r="18.9"/><circle cx="349" cy="538" r="18.9"/><circle cx="385.7" cy="538" r="18.9"/><circle cx="422.3" cy="538" r="18.9"/><circle cx="458.9" cy="538" r="18.9"/><circle cx="495.5" cy="538" r="18.9"/><circle cx="532.2" cy="538" r="18.9"/><circle cx="568.8" cy="538" r="18.9"/><circle cx="605.4" cy="537.9" r="18.9"/><circle cx="642" cy="537.9" r="18.9"/><circle cx="678.7" cy="537.9" r="18.9"/><circle cx="715.3" cy="537.9" r="18.9"/><circle cx="751.9" cy="537.9" r="18.9"/><circle cx="788.5" cy="537.9" r="18.9"/><circle cx="825.2" cy="537.9" r="18.9"/><circle cx="861.8" cy="537.8" r="18.9"/><circle cx="898.4" cy="537.8" r="18.9"/><circle cx="935" cy="537.8" r="18.9"/><circle cx="971.7" cy="537.8" r="18.9"/><circle cx="1008.3" cy="537.8" r="18.9"/><circle cx="1044.9" cy="537.8" r="18.9"/><circle cx="1081.5" cy="537.8" r="18.9"/><circle cx="1118.2" cy="537.7" r="18.9"/><circle cx="1154.8" cy="537.7" r="18.9"/></g>
<g fill="url(#sp)"><circle cx="151.7" cy="549.8" r="19.3"/><circle cx="189.1" cy="549.8" r="19.3"/><circle cx="226.4" cy="549.8" r="19.3"/><circle cx="263.8" cy="549.8" r="19.3"/><circle cx="301.1" cy="549.8" r="19.3"/><circle cx="338.5" cy="549.8" r="19.3"/><circle cx="375.9" cy="549.8" r="19.3"/><circle cx="413.2" cy="549.8" r="19.3"/><circle cx="450.6" cy="549.8" r="19.3"/><circle cx="487.9" cy="549.8" r="19.3"/><circle cx="525.3" cy="549.8" r="19.3"/><circle cx="562.7" cy="549.8" r="19.3"/><circle cx="600" cy="549.8" r="19.3"/><circle cx="637.4" cy="549.8" r="19.3"/><circle cx="674.7" cy="549.8" r="19.3"/><circle cx="712.1" cy="549.8" r="19.3"/><circle cx="749.5" cy="549.8" r="19.3"/><circle cx="786.8" cy="549.8" r="19.3"/><circle cx="824.2" cy="549.8" r="19.3"/><circle cx="861.5" cy="549.8" r="19.3"/><circle cx="898.9" cy="549.8" r="19.3"/><circle cx="936.3" cy="549.8" r="19.3"/><circle cx="973.6" cy="549.8" r="19.3"/><circle cx="1011" cy="549.8" r="19.3"/><circle cx="1048.3" cy="549.8" r="19.3"/><circle cx="1085.7" cy="549.8" r="19.3"/><circle cx="1123.1" cy="549.8" r="19.3"/><circle cx="1160.4" cy="549.8" r="19.3"/></g>
<g fill="url(#sp)"><circle cx="137.1" cy="561.8" r="19.7"/><circle cx="175.2" cy="561.8" r="19.7"/><circle cx="213.4" cy="561.8" r="19.7"/><circle cx="251.5" cy="561.9" r="19.7"/><circle cx="289.6" cy="561.9" r="19.7"/><circle cx="327.7" cy="561.9" r="19.7"/><circle cx="365.8" cy="561.9" r="19.7"/><circle cx="403.9" cy="561.9" r="19.7"/><circle cx="442" cy="561.9" r="19.7"/><circle cx="480.1" cy="561.9" r="19.7"/><circle cx="518.3" cy="562" r="19.7"/><circle cx="556.4" cy="562" r="19.7"/><circle cx="594.5" cy="562" r="19.7"/><circle cx="632.6" cy="562" r="19.7"/><circle cx="670.7" cy="562" r="19.7"/><circle cx="708.8" cy="562" r="19.7"/><circle cx="746.9" cy="562" r="19.7"/><circle cx="785" cy="562.1" r="19.7"/><circle cx="823.2" cy="562.1" r="19.7"/><circle cx="861.3" cy="562.1" r="19.7"/><circle cx="899.4" cy="562.1" r="19.7"/><circle cx="937.5" cy="562.1" r="19.7"/><circle cx="975.6" cy="562.1" r="19.7"/><circle cx="1013.7" cy="562.1" r="19.7"/><circle cx="1051.8" cy="562.1" r="19.7"/><circle cx="1089.9" cy="562.2" r="19.7"/><circle cx="1128" cy="562.2" r="19.7"/><circle cx="1166.2" cy="562.2" r="19.7"/></g>
<g fill="url(#sp)"><circle cx="122.2" cy="574.1" r="20.1"/><circle cx="161.1" cy="574.1" r="20.1"/><circle cx="200" cy="574.1" r="20.1"/><circle cx="238.9" cy="574.2" r="20.1"/><circle cx="277.8" cy="574.2" r="20.1"/><circle cx="316.6" cy="574.2" r="20.1"/><circle cx="355.5" cy="574.3" r="20.1"/><circle cx="394.4" cy="574.3" r="20.1"/><circle cx="433.3" cy="574.3" r="20.1"/><circle cx="472.2" cy="574.3" r="20.1"/><circle cx="511" cy="574.4" r="20.1"/><circle cx="549.9" cy="574.4" r="20.1"/><circle cx="588.8" cy="574.4" r="20.1"/><circle cx="627.7" cy="574.5" r="20.1"/><circle cx="666.6" cy="574.5" r="20.1"/><circle cx="705.5" cy="574.5" r="20.1"/><circle cx="744.3" cy="574.5" r="20.1"/><circle cx="783.2" cy="574.6" r="20.1"/><circle cx="822.1" cy="574.6" r="20.1"/><circle cx="861" cy="574.6" r="20.1"/><circle cx="899.9" cy="574.7" r="20.1"/><circle cx="938.7" cy="574.7" r="20.1"/><circle cx="977.6" cy="574.7" r="20.1"/><circle cx="1016.5" cy="574.7" r="20.1"/><circle cx="1055.4" cy="574.8" r="20.1"/><circle cx="1094.3" cy="574.8" r="20.1"/><circle cx="1133.2" cy="574.8" r="20.1"/><circle cx="1172" cy="574.9" r="20.1"/></g>
<g fill="#e8e8e6" opacity="0.1"><ellipse cx="119.5" cy="562.3" rx="2.4" ry="1"/><ellipse cx="158.4" cy="562.4" rx="2.4" ry="1"/><ellipse cx="197.3" cy="562.4" rx="2.4" ry="1"/><ellipse cx="236.2" cy="562.4" rx="2.4" ry="1"/><ellipse cx="275" cy="562.4" rx="2.4" ry="1"/><ellipse cx="313.9" cy="562.5" rx="2.4" ry="1"/><ellipse cx="352.8" cy="562.5" rx="2.4" ry="1"/><ellipse cx="391.7" cy="562.5" rx="2.4" ry="1"/><ellipse cx="430.6" cy="562.6" rx="2.4" ry="1"/><ellipse cx="469.5" cy="562.6" rx="2.4" ry="1"/><ellipse cx="508.3" cy="562.6" rx="2.4" ry="1"/><ellipse cx="547.2" cy="562.6" rx="2.4" ry="1"/><ellipse cx="586.1" cy="562.7" rx="2.4" ry="1"/><ellipse cx="625" cy="562.7" rx="2.4" ry="1"/><ellipse cx="663.9" cy="562.7" rx="2.4" ry="1"/><ellipse cx="702.7" cy="562.8" rx="2.4" ry="1"/><ellipse cx="741.6" cy="562.8" rx="2.4" ry="1"/><ellipse cx="780.5" cy="562.8" rx="2.4" ry="1"/><ellipse cx="819.4" cy="562.8" rx="2.4" ry="1"/><ellipse cx="858.3" cy="562.9" rx="2.4" ry="1"/><ellipse cx="897.2" cy="562.9" rx="2.4" ry="1"/><ellipse cx="936" cy="562.9" rx="2.4" ry="1"/><ellipse cx="974.9" cy="563" rx="2.4" ry="1"/><ellipse cx="1013.8" cy="563" rx="2.4" ry="1"/><ellipse cx="1052.7" cy="563" rx="2.4" ry="1"/><ellipse cx="1091.6" cy="563.1" rx="2.4" ry="1"/><ellipse cx="1130.4" cy="563.1" rx="2.4" ry="1"/><ellipse cx="1169.3" cy="563.1" rx="2.4" ry="1"/></g>
<g fill="url(#sp)"><circle cx="107" cy="586.6" r="20.5"/><circle cx="146.6" cy="586.7" r="20.5"/><circle cx="186.3" cy="586.7" r="20.5"/><circle cx="226" cy="586.8" r="20.5"/><circle cx="265.7" cy="586.8" r="20.5"/><circle cx="305.3" cy="586.8" r="20.5"/><circle cx="345" cy="586.9" r="20.5"/><circle cx="384.7" cy="586.9" r="20.5"/><circle cx="424.3" cy="587" r="20.5"/><circle cx="464" cy="587" r="20.5"/><circle cx="503.7" cy="587.1" r="20.5"/><circle cx="543.3" cy="587.1" r="20.5"/><circle cx="583" cy="587.2" r="20.5"/><circle cx="622.7" cy="587.2" r="20.5"/><circle cx="662.4" cy="587.3" r="20.5"/><circle cx="702" cy="587.3" r="20.5"/><circle cx="741.7" cy="587.3" r="20.5"/><circle cx="781.4" cy="587.4" r="20.5"/><circle cx="821" cy="587.4" r="20.5"/><circle cx="860.7" cy="587.5" r="20.5"/><circle cx="900.4" cy="587.5" r="20.5"/><circle cx="940" cy="587.6" r="20.5"/><circle cx="979.7" cy="587.6" r="20.5"/><circle cx="1019.4" cy="587.7" r="20.5"/><circle cx="1059" cy="587.7" r="20.5"/><circle cx="1098.7" cy="587.7" r="20.5"/><circle cx="1138.4" cy="587.8" r="20.5"/><circle cx="1178.1" cy="587.8" r="20.5"/></g>
<g fill="#e8e8e6" opacity="0.2"><ellipse cx="104.2" cy="574.6" rx="2.4" ry="1"/><ellipse cx="143.9" cy="574.7" rx="2.4" ry="1"/><ellipse cx="183.5" cy="574.7" rx="2.4" ry="1"/><ellipse cx="223.2" cy="574.8" rx="2.4" ry="1"/><ellipse cx="262.9" cy="574.8" rx="2.4" ry="1"/><ellipse cx="302.6" cy="574.9" rx="2.4" ry="1"/><ellipse cx="342.2" cy="574.9" rx="2.4" ry="1"/><ellipse cx="381.9" cy="574.9" rx="2.4" ry="1"/><ellipse cx="421.6" cy="575" rx="2.4" ry="1"/><ellipse cx="461.2" cy="575" rx="2.4" ry="1"/><ellipse cx="500.9" cy="575.1" rx="2.4" ry="1"/><ellipse cx="540.6" cy="575.1" rx="2.4" ry="1"/><ellipse cx="580.2" cy="575.2" rx="2.4" ry="1"/><ellipse cx="619.9" cy="575.2" rx="2.4" ry="1"/><ellipse cx="659.6" cy="575.3" rx="2.4" ry="1"/><ellipse cx="699.3" cy="575.3" rx="2.4" ry="1"/><ellipse cx="738.9" cy="575.3" rx="2.4" ry="1"/><ellipse cx="778.6" cy="575.4" rx="2.4" ry="1"/><ellipse cx="818.3" cy="575.4" rx="2.4" ry="1"/><ellipse cx="857.9" cy="575.5" rx="2.4" ry="1"/><ellipse cx="897.6" cy="575.5" rx="2.4" ry="1"/><ellipse cx="937.3" cy="575.6" rx="2.4" ry="1"/><ellipse cx="976.9" cy="575.6" rx="2.4" ry="1"/><ellipse cx="1016.6" cy="575.7" rx="2.4" ry="1"/><ellipse cx="1056.3" cy="575.7" rx="2.4" ry="1"/><ellipse cx="1096" cy="575.8" rx="2.4" ry="1"/><ellipse cx="1135.6" cy="575.8" rx="2.4" ry="1"/><ellipse cx="1175.3" cy="575.8" rx="2.4" ry="1"/></g>
<g fill="url(#sp)"><circle cx="91.4" cy="599.4" r="20.9"/><circle cx="131.8" cy="599.5" r="20.9"/><circle cx="172.3" cy="599.6" r="20.9"/><circle cx="212.8" cy="599.6" r="20.9"/><circle cx="253.3" cy="599.7" r="20.9"/><circle cx="293.8" cy="599.7" r="20.9"/><circle cx="334.2" cy="599.8" r="20.9"/><circle cx="374.7" cy="599.9" r="20.9"/><circle cx="415.2" cy="599.9" r="20.9"/><circle cx="455.7" cy="600" r="20.9"/><circle cx="496.1" cy="600" r="20.9"/><circle cx="536.6" cy="600.1" r="20.9"/><circle cx="577.1" cy="600.2" r="20.9"/><circle cx="617.6" cy="600.2" r="20.9"/><circle cx="658" cy="600.3" r="20.9"/><circle cx="698.5" cy="600.4" r="20.9"/><circle cx="739" cy="600.4" r="20.9"/><circle cx="779.5" cy="600.5" r="20.9"/><circle cx="819.9" cy="600.5" r="20.9"/><circle cx="860.4" cy="600.6" r="20.9"/><circle cx="900.9" cy="600.7" r="20.9"/><circle cx="941.4" cy="600.7" r="20.9"/><circle cx="981.8" cy="600.8" r="20.9"/><circle cx="1022.3" cy="600.9" r="20.9"/><circle cx="1062.8" cy="600.9" r="20.9"/><circle cx="1103.3" cy="601" r="20.9"/><circle cx="1143.7" cy="601" r="20.9"/><circle cx="1184.2" cy="601.1" r="20.9"/></g>
<g fill="#e8e8e6" opacity="0.3"><ellipse cx="88.6" cy="587.2" rx="2.4" ry="1"/><ellipse cx="129" cy="587.3" rx="2.4" ry="1"/><ellipse cx="169.5" cy="587.3" rx="2.4" ry="1"/><ellipse cx="210" cy="587.4" rx="2.4" ry="1"/><ellipse cx="250.5" cy="587.4" rx="2.4" ry="1"/><ellipse cx="290.9" cy="587.5" rx="2.4" ry="1"/><ellipse cx="331.4" cy="587.6" rx="2.4" ry="1"/><ellipse cx="371.9" cy="587.6" rx="2.4" ry="1"/><ellipse cx="412.4" cy="587.7" rx="2.4" ry="1"/><ellipse cx="452.8" cy="587.8" rx="2.4" ry="1"/><ellipse cx="493.3" cy="587.8" rx="2.4" ry="1"/><ellipse cx="533.8" cy="587.9" rx="2.4" ry="1"/><ellipse cx="574.3" cy="587.9" rx="2.4" ry="1"/><ellipse cx="614.7" cy="588" rx="2.4" ry="1"/><ellipse cx="655.2" cy="588.1" rx="2.4" ry="1"/><ellipse cx="695.7" cy="588.1" rx="2.4" ry="1"/><ellipse cx="736.2" cy="588.2" rx="2.4" ry="1"/><ellipse cx="776.6" cy="588.2" rx="2.4" ry="1"/><ellipse cx="817.1" cy="588.3" rx="2.4" ry="1"/><ellipse cx="857.6" cy="588.4" rx="2.4" ry="1"/><ellipse cx="898.1" cy="588.4" rx="2.4" ry="1"/><ellipse cx="938.5" cy="588.5" rx="2.4" ry="1"/><ellipse cx="979" cy="588.6" rx="2.4" ry="1"/><ellipse cx="1019.5" cy="588.6" rx="2.4" ry="1"/><ellipse cx="1060" cy="588.7" rx="2.4" ry="1"/><ellipse cx="1100.4" cy="588.7" rx="2.4" ry="1"/><ellipse cx="1140.9" cy="588.8" rx="2.4" ry="1"/><ellipse cx="1181.4" cy="588.9" rx="2.4" ry="1"/></g>
<g fill="url(#sp)"><circle cx="75.4" cy="612.5" r="21.3"/><circle cx="116.7" cy="612.6" r="21.3"/><circle cx="158" cy="612.7" r="21.3"/><circle cx="199.3" cy="612.7" r="21.3"/><circle cx="240.6" cy="612.8" r="21.3"/><circle cx="281.9" cy="612.9" r="21.3"/><circle cx="323.2" cy="613" r="21.3"/><circle cx="364.5" cy="613.1" r="21.3"/><circle cx="405.8" cy="613.1" r="21.3"/><circle cx="447.1" cy="613.2" r="21.3"/><circle cx="488.4" cy="613.3" r="21.3"/><circle cx="529.7" cy="613.4" r="21.3"/><circle cx="571" cy="613.5" r="21.3"/><circle cx="612.3" cy="613.6" r="21.3"/><circle cx="653.6" cy="613.6" r="21.3"/><circle cx="694.9" cy="613.7" r="21.3"/><circle cx="736.2" cy="613.8" r="21.3"/><circle cx="777.5" cy="613.9" r="21.3"/><circle cx="818.8" cy="614" r="21.3"/><circle cx="860.1" cy="614" r="21.3"/><circle cx="901.4" cy="614.1" r="21.3"/><circle cx="942.7" cy="614.2" r="21.3"/><circle cx="984" cy="614.3" r="21.3"/><circle cx="1025.3" cy="614.4" r="21.3"/><circle cx="1066.6" cy="614.4" r="21.3"/><circle cx="1107.9" cy="614.5" r="21.3"/><circle cx="1149.2" cy="614.6" r="21.3"/><circle cx="1190.5" cy="614.7" r="21.3"/></g>
<g fill="#e8e8e6" opacity="0.3"><ellipse cx="72.5" cy="600" rx="2.5" ry="1.1"/><ellipse cx="113.8" cy="600.1" rx="2.5" ry="1.1"/><ellipse cx="155.1" cy="600.2" rx="2.5" ry="1.1"/><ellipse cx="196.4" cy="600.3" rx="2.5" ry="1.1"/><ellipse cx="237.7" cy="600.3" rx="2.5" ry="1.1"/><ellipse cx="279" cy="600.4" rx="2.5" ry="1.1"/><ellipse cx="320.3" cy="600.5" rx="2.5" ry="1.1"/><ellipse cx="361.6" cy="600.6" rx="2.5" ry="1.1"/><ellipse cx="402.9" cy="600.7" rx="2.5" ry="1.1"/><ellipse cx="444.2" cy="600.7" rx="2.5" ry="1.1"/><ellipse cx="485.5" cy="600.8" rx="2.5" ry="1.1"/><ellipse cx="526.8" cy="600.9" rx="2.5" ry="1.1"/><ellipse cx="568.1" cy="601" rx="2.5" ry="1.1"/><ellipse cx="609.4" cy="601.1" rx="2.5" ry="1.1"/><ellipse cx="650.7" cy="601.1" rx="2.5" ry="1.1"/><ellipse cx="692" cy="601.2" rx="2.5" ry="1.1"/><ellipse cx="733.3" cy="601.3" rx="2.5" ry="1.1"/><ellipse cx="774.6" cy="601.4" rx="2.5" ry="1.1"/><ellipse cx="815.9" cy="601.5" rx="2.5" ry="1.1"/><ellipse cx="857.2" cy="601.5" rx="2.5" ry="1.1"/><ellipse cx="898.5" cy="601.6" rx="2.5" ry="1.1"/><ellipse cx="939.8" cy="601.7" rx="2.5" ry="1.1"/><ellipse cx="981.1" cy="601.8" rx="2.5" ry="1.1"/><ellipse cx="1022.4" cy="601.9" rx="2.5" ry="1.1"/><ellipse cx="1063.7" cy="602" rx="2.5" ry="1.1"/><ellipse cx="1105" cy="602" rx="2.5" ry="1.1"/><ellipse cx="1146.3" cy="602.1" rx="2.5" ry="1.1"/><ellipse cx="1187.6" cy="602.2" rx="2.5" ry="1.1"/></g>
<g fill="url(#sp)"><circle cx="59.1" cy="625.9" r="21.8"/><circle cx="101.3" cy="626" r="21.8"/><circle cx="143.4" cy="626.1" r="21.8"/><circle cx="185.6" cy="626.2" r="21.8"/><circle cx="227.7" cy="626.3" r="21.8"/><circle cx="269.8" cy="626.4" r="21.8"/><circle cx="312" cy="626.5" r="21.8"/><circle cx="354.1" cy="626.6" r="21.8"/><circle cx="396.3" cy="626.7" r="21.8"/><circle cx="438.4" cy="626.8" r="21.8"/><circle cx="480.5" cy="626.9" r="21.8"/><circle cx="522.7" cy="627" r="21.8"/><circle cx="564.8" cy="627.1" r="21.8"/><circle cx="607" cy="627.2" r="21.8"/><circle cx="649.1" cy="627.3" r="21.8"/><circle cx="691.2" cy="627.4" r="21.8"/><circle cx="733.4" cy="627.5" r="21.8"/><circle cx="775.5" cy="627.6" r="21.8"/><circle cx="817.7" cy="627.7" r="21.8"/><circle cx="859.8" cy="627.8" r="21.8"/><circle cx="902" cy="627.9" r="21.8"/><circle cx="944.1" cy="627.9" r="21.8"/><circle cx="986.2" cy="628" r="21.8"/><circle cx="1028.4" cy="628.1" r="21.8"/><circle cx="1070.5" cy="628.2" r="21.8"/><circle cx="1112.7" cy="628.3" r="21.8"/><circle cx="1154.8" cy="628.4" r="21.8"/><circle cx="1196.9" cy="628.5" r="21.8"/></g>
<g fill="#e8e8e6" opacity="0.4"><ellipse cx="56.2" cy="613.1" rx="2.5" ry="1.1"/><ellipse cx="98.3" cy="613.2" rx="2.5" ry="1.1"/><ellipse cx="140.5" cy="613.3" rx="2.5" ry="1.1"/><ellipse cx="182.6" cy="613.4" rx="2.5" ry="1.1"/><ellipse cx="224.8" cy="613.5" rx="2.5" ry="1.1"/><ellipse cx="266.9" cy="613.6" rx="2.5" ry="1.1"/><ellipse cx="309" cy="613.7" rx="2.5" ry="1.1"/><ellipse cx="351.2" cy="613.8" rx="2.5" ry="1.1"/><ellipse cx="393.3" cy="613.9" rx="2.5" ry="1.1"/><ellipse cx="435.5" cy="614" rx="2.5" ry="1.1"/><ellipse cx="477.6" cy="614.1" rx="2.5" ry="1.1"/><ellipse cx="519.7" cy="614.2" rx="2.5" ry="1.1"/><ellipse cx="561.9" cy="614.3" rx="2.5" ry="1.1"/><ellipse cx="604" cy="614.4" rx="2.5" ry="1.1"/><ellipse cx="646.2" cy="614.5" rx="2.5" ry="1.1"/><ellipse cx="688.3" cy="614.6" rx="2.5" ry="1.1"/><ellipse cx="730.4" cy="614.7" rx="2.5" ry="1.1"/><ellipse cx="772.6" cy="614.8" rx="2.5" ry="1.1"/><ellipse cx="814.7" cy="614.9" rx="2.5" ry="1.1"/><ellipse cx="856.9" cy="615" rx="2.5" ry="1.1"/><ellipse cx="899" cy="615.1" rx="2.5" ry="1.1"/><ellipse cx="941.2" cy="615.2" rx="2.5" ry="1.1"/><ellipse cx="983.3" cy="615.3" rx="2.5" ry="1.1"/><ellipse cx="1025.4" cy="615.4" rx="2.5" ry="1.1"/><ellipse cx="1067.6" cy="615.5" rx="2.5" ry="1.1"/><ellipse cx="1109.7" cy="615.6" rx="2.5" ry="1.1"/><ellipse cx="1151.9" cy="615.7" rx="2.5" ry="1.1"/><ellipse cx="1194" cy="615.8" rx="2.5" ry="1.1"/></g>
<g fill="url(#spf)"><circle cx="42.5" cy="639.5" r="21.2"/><circle cx="85.5" cy="639.6" r="21.2"/><circle cx="128.5" cy="639.7" r="21.2"/><circle cx="171.5" cy="639.8" r="21.2"/><circle cx="214.5" cy="640" r="21.2"/><circle cx="257.5" cy="640.1" r="21.2"/><circle cx="300.5" cy="640.2" r="21.2"/><circle cx="343.5" cy="640.3" r="21.2"/><circle cx="386.5" cy="640.4" r="21.2"/><circle cx="429.5" cy="640.6" r="21.2"/><circle cx="472.5" cy="640.7" r="21.2"/><circle cx="515.5" cy="640.8" r="21.2"/><circle cx="558.5" cy="640.9" r="21.2"/><circle cx="601.5" cy="641" r="21.2"/><circle cx="644.5" cy="641.2" r="21.2"/><circle cx="687.5" cy="641.3" r="21.2"/><circle cx="730.5" cy="641.4" r="21.2"/><circle cx="773.5" cy="641.5" r="21.2"/><circle cx="816.5" cy="641.6" r="21.2"/><circle cx="859.5" cy="641.8" r="21.2"/><circle cx="902.5" cy="641.9" r="21.2"/><circle cx="945.5" cy="642" r="21.2"/><circle cx="988.5" cy="642.1" r="21.2"/><circle cx="1031.5" cy="642.2" r="21.2"/><circle cx="1074.5" cy="642.4" r="21.2"/><circle cx="1117.5" cy="642.5" r="21.2"/><circle cx="1160.5" cy="642.6" r="21.2"/><circle cx="1203.5" cy="642.7" r="21.2"/></g>
<g stroke="#2e302c" stroke-width="2.6" opacity="0.38" stroke-linecap="round" filter="url(#b1)"><path d="M80.2 627.9 L260.3 465.6"/><path d="M122.3 628 L292.9 465.5"/><path d="M164.5 628.1 L325.5 465.4"/><path d="M206.6 628.2 L358 465.3"/><path d="M248.8 628.3 L390.6 465.3"/><path d="M290.9 628.4 L423.2 465.2"/><path d="M333.1 628.5 L455.8 465.1"/><path d="M375.2 628.6 L488.4 465"/><path d="M417.3 628.7 L521 464.9"/><path d="M459.5 628.8 L553.6 464.9"/><path d="M501.6 628.9 L586.2 464.8"/><path d="M543.8 629 L618.8 464.7"/><path d="M585.9 629.1 L651.4 464.6"/><path d="M628 629.2 L684 464.6"/><path d="M670.2 629.3 L716.6 464.5"/><path d="M712.3 629.4 L749.2 464.4"/><path d="M754.5 629.5 L781.8 464.3"/><path d="M796.6 629.6 L814.4 464.2"/><path d="M838.7 629.7 L847 464.2"/><path d="M880.9 629.8 L879.5 464.1"/><path d="M923 629.9 L912.1 464"/><path d="M965.2 630 L944.7 463.9"/><path d="M1007.3 630.1 L977.3 463.9"/><path d="M1049.4 630.2 L1009.9 463.8"/><path d="M1091.6 630.3 L1042.5 463.7"/><path d="M1133.7 630.4 L1075.1 463.6"/><path d="M1175.9 630.5 L1107.7 463.5"/></g>
<g fill="#f6f6f6" opacity="0.9" filter="url(#b1)"><path d="M36.5 632.5 q-8 1 -9.5 9 q-0.5 9 6 14 q4 1 6 -1 q-6 -3 -6.5 -10 q0.5 -7 6 -9 q1 -3 -2 -3z"/><circle cx="32" cy="634" r="3"/><circle cx="32.5" cy="649.5" r="3.2"/><circle cx="37.5" cy="653.5" r="2"/><path d="M79.5 632.6 q-8 1 -9.5 9 q-0.5 9 6 14 q4 1 6 -1 q-6 -3 -6.5 -10 q0.5 -7 6 -9 q1 -3 -2 -3z"/><circle cx="75" cy="634.1" r="3"/><circle cx="75.5" cy="649.6" r="3.2"/><circle cx="80.5" cy="653.6" r="2"/><path d="M122.5 632.7 q-8 1 -9.5 9 q-0.5 9 6 14 q4 1 6 -1 q-6 -3 -6.5 -10 q0.5 -7 6 -9 q1 -3 -2 -3z"/><circle cx="118" cy="634.2" r="3"/><circle cx="118.5" cy="649.7" r="3.2"/><circle cx="123.5" cy="653.7" r="2"/><path d="M165.5 632.8 q-8 1 -9.5 9 q-0.5 9 6 14 q4 1 6 -1 q-6 -3 -6.5 -10 q0.5 -7 6 -9 q1 -3 -2 -3z"/><circle cx="161" cy="634.3" r="3"/><circle cx="161.5" cy="649.8" r="3.2"/><circle cx="166.5" cy="653.8" r="2"/><path d="M208.5 633 q-8 1 -9.5 9 q-0.5 9 6 14 q4 1 6 -1 q-6 -3 -6.5 -10 q0.5 -7 6 -9 q1 -3 -2 -3z"/><circle cx="204" cy="634.5" r="3"/><circle cx="204.5" cy="650" r="3.2"/><circle cx="209.5" cy="654" r="2"/><path d="M251.5 633.1 q-8 1 -9.5 9 q-0.5 9 6 14 q4 1 6 -1 q-6 -3 -6.5 -10 q0.5 -7 6 -9 q1 -3 -2 -3z"/><circle cx="247" cy="634.6" r="3"/><circle cx="247.5" cy="650.1" r="3.2"/><circle cx="252.5" cy="654.1" r="2"/><path d="M294.5 633.2 q-8 1 -9.5 9 q-0.5 9 6 14 q4 1 6 -1 q-6 -3 -6.5 -10 q0.5 -7 6 -9 q1 -3 -2 -3z"/><circle cx="290" cy="634.7" r="3"/><circle cx="290.5" cy="650.2" r="3.2"/><circle cx="295.5" cy="654.2" r="2"/><path d="M337.5 633.3 q-8 1 -9.5 9 q-0.5 9 6 14 q4 1 6 -1 q-6 -3 -6.5 -10 q0.5 -7 6 -9 q1 -3 -2 -3z"/><circle cx="333" cy="634.8" r="3"/><circle cx="333.5" cy="650.3" r="3.2"/><circle cx="338.5" cy="654.3" r="2"/><path d="M380.5 633.4 q-8 1 -9.5 9 q-0.5 9 6 14 q4 1 6 -1 q-6 -3 -6.5 -10 q0.5 -7 6 -9 q1 -3 -2 -3z"/><circle cx="376" cy="634.9" r="3"/><circle cx="376.5" cy="650.4" r="3.2"/><circle cx="381.5" cy="654.4" r="2"/><path d="M423.5 633.6 q-8 1 -9.5 9 q-0.5 9 6 14 q4 1 6 -1 q-6 -3 -6.5 -10 q0.5 -7 6 -9 q1 -3 -2 -3z"/><circle cx="419" cy="635.1" r="3"/><circle cx="419.5" cy="650.6" r="3.2"/><circle cx="424.5" cy="654.6" r="2"/><path d="M466.5 633.7 q-8 1 -9.5 9 q-0.5 9 6 14 q4 1 6 -1 q-6 -3 -6.5 -10 q0.5 -7 6 -9 q1 -3 -2 -3z"/><circle cx="462" cy="635.2" r="3"/><circle cx="462.5" cy="650.7" r="3.2"/><circle cx="467.5" cy="654.7" r="2"/><path d="M509.5 633.8 q-8 1 -9.5 9 q-0.5 9 6 14 q4 1 6 -1 q-6 -3 -6.5 -10 q0.5 -7 6 -9 q1 -3 -2 -3z"/><circle cx="505" cy="635.3" r="3"/><circle cx="505.5" cy="650.8" r="3.2"/><circle cx="510.5" cy="654.8" r="2"/><path d="M552.5 633.9 q-8 1 -9.5 9 q-0.5 9 6 14 q4 1 6 -1 q-6 -3 -6.5 -10 q0.5 -7 6 -9 q1 -3 -2 -3z"/><circle cx="548" cy="635.4" r="3"/><circle cx="548.5" cy="650.9" r="3.2"/><circle cx="553.5" cy="654.9" r="2"/><path d="M595.5 634 q-8 1 -9.5 9 q-0.5 9 6 14 q4 1 6 -1 q-6 -3 -6.5 -10 q0.5 -7 6 -9 q1 -3 -2 -3z"/><circle cx="591" cy="635.5" r="3"/><circle cx="591.5" cy="651" r="3.2"/><circle cx="596.5" cy="655" r="2"/><path d="M638.5 634.2 q-8 1 -9.5 9 q-0.5 9 6 14 q4 1 6 -1 q-6 -3 -6.5 -10 q0.5 -7 6 -9 q1 -3 -2 -3z"/><circle cx="634" cy="635.7" r="3"/><circle cx="634.5" cy="651.2" r="3.2"/><circle cx="639.5" cy="655.2" r="2"/><path d="M681.5 634.3 q-8 1 -9.5 9 q-0.5 9 6 14 q4 1 6 -1 q-6 -3 -6.5 -10 q0.5 -7 6 -9 q1 -3 -2 -3z"/><circle cx="677" cy="635.8" r="3"/><circle cx="677.5" cy="651.3" r="3.2"/><circle cx="682.5" cy="655.3" r="2"/><path d="M724.5 634.4 q-8 1 -9.5 9 q-0.5 9 6 14 q4 1 6 -1 q-6 -3 -6.5 -10 q0.5 -7 6 -9 q1 -3 -2 -3z"/><circle cx="720" cy="635.9" r="3"/><circle cx="720.5" cy="651.4" r="3.2"/><circle cx="725.5" cy="655.4" r="2"/><path d="M767.5 634.5 q-8 1 -9.5 9 q-0.5 9 6 14 q4 1 6 -1 q-6 -3 -6.5 -10 q0.5 -7 6 -9 q1 -3 -2 -3z"/><circle cx="763" cy="636" r="3"/><circle cx="763.5" cy="651.5" r="3.2"/><circle cx="768.5" cy="655.5" r="2"/><path d="M810.5 634.6 q-8 1 -9.5 9 q-0.5 9 6 14 q4 1 6 -1 q-6 -3 -6.5 -10 q0.5 -7 6 -9 q1 -3 -2 -3z"/><circle cx="806" cy="636.1" r="3"/><circle cx="806.5" cy="651.6" r="3.2"/><circle cx="811.5" cy="655.6" r="2"/><path d="M853.5 634.8 q-8 1 -9.5 9 q-0.5 9 6 14 q4 1 6 -1 q-6 -3 -6.5 -10 q0.5 -7 6 -9 q1 -3 -2 -3z"/><circle cx="849" cy="636.3" r="3"/><circle cx="849.5" cy="651.8" r="3.2"/><circle cx="854.5" cy="655.8" r="2"/><path d="M896.5 634.9 q-8 1 -9.5 9 q-0.5 9 6 14 q4 1 6 -1 q-6 -3 -6.5 -10 q0.5 -7 6 -9 q1 -3 -2 -3z"/><circle cx="892" cy="636.4" r="3"/><circle cx="892.5" cy="651.9" r="3.2"/><circle cx="897.5" cy="655.9" r="2"/><path d="M939.5 635 q-8 1 -9.5 9 q-0.5 9 6 14 q4 1 6 -1 q-6 -3 -6.5 -10 q0.5 -7 6 -9 q1 -3 -2 -3z"/><circle cx="935" cy="636.5" r="3"/><circle cx="935.5" cy="652" r="3.2"/><circle cx="940.5" cy="656" r="2"/><path d="M982.5 635.1 q-8 1 -9.5 9 q-0.5 9 6 14 q4 1 6 -1 q-6 -3 -6.5 -10 q0.5 -7 6 -9 q1 -3 -2 -3z"/><circle cx="978" cy="636.6" r="3"/><circle cx="978.5" cy="652.1" r="3.2"/><circle cx="983.5" cy="656.1" r="2"/><path d="M1025.5 635.2 q-8 1 -9.5 9 q-0.5 9 6 14 q4 1 6 -1 q-6 -3 -6.5 -10 q0.5 -7 6 -9 q1 -3 -2 -3z"/><circle cx="1021" cy="636.7" r="3"/><circle cx="1021.5" cy="652.2" r="3.2"/><circle cx="1026.5" cy="656.2" r="2"/><path d="M1068.5 635.4 q-8 1 -9.5 9 q-0.5 9 6 14 q4 1 6 -1 q-6 -3 -6.5 -10 q0.5 -7 6 -9 q1 -3 -2 -3z"/><circle cx="1064" cy="636.9" r="3"/><circle cx="1064.5" cy="652.4" r="3.2"/><circle cx="1069.5" cy="656.4" r="2"/><path d="M1111.5 635.5 q-8 1 -9.5 9 q-0.5 9 6 14 q4 1 6 -1 q-6 -3 -6.5 -10 q0.5 -7 6 -9 q1 -3 -2 -3z"/><circle cx="1107" cy="637" r="3"/><circle cx="1107.5" cy="652.5" r="3.2"/><circle cx="1112.5" cy="656.5" r="2"/><path d="M1154.5 635.6 q-8 1 -9.5 9 q-0.5 9 6 14 q4 1 6 -1 q-6 -3 -6.5 -10 q0.5 -7 6 -9 q1 -3 -2 -3z"/><circle cx="1150" cy="637.1" r="3"/><circle cx="1150.5" cy="652.6" r="3.2"/><circle cx="1155.5" cy="656.6" r="2"/><path d="M1197.5 635.7 q-8 1 -9.5 9 q-0.5 9 6 14 q4 1 6 -1 q-6 -3 -6.5 -10 q0.5 -7 6 -9 q1 -3 -2 -3z"/><circle cx="1193" cy="637.2" r="3"/><circle cx="1193.5" cy="652.7" r="3.2"/><circle cx="1198.5" cy="656.7" r="2"/></g>
<g fill="#101210" opacity="0.92"><path d="M59 656.5 l5 -8 l5 8 l-5 7z"/><path d="M102 656.6 l5 -8 l5 8 l-5 7z"/><path d="M145 656.8 l5 -8 l5 8 l-5 7z"/><path d="M188 656.9 l5 -8 l5 8 l-5 7z"/><path d="M231 657 l5 -8 l5 8 l-5 7z"/><path d="M274 657.1 l5 -8 l5 8 l-5 7z"/><path d="M317 657.3 l5 -8 l5 8 l-5 7z"/><path d="M360 657.4 l5 -8 l5 8 l-5 7z"/><path d="M403 657.5 l5 -8 l5 8 l-5 7z"/><path d="M446 657.6 l5 -8 l5 8 l-5 7z"/><path d="M489 657.7 l5 -8 l5 8 l-5 7z"/><path d="M532 657.9 l5 -8 l5 8 l-5 7z"/><path d="M575 658 l5 -8 l5 8 l-5 7z"/><path d="M618 658.1 l5 -8 l5 8 l-5 7z"/><path d="M661 658.2 l5 -8 l5 8 l-5 7z"/><path d="M704 658.3 l5 -8 l5 8 l-5 7z"/><path d="M747 658.5 l5 -8 l5 8 l-5 7z"/><path d="M790 658.6 l5 -8 l5 8 l-5 7z"/><path d="M833 658.7 l5 -8 l5 8 l-5 7z"/><path d="M876 658.8 l5 -8 l5 8 l-5 7z"/><path d="M919 658.9 l5 -8 l5 8 l-5 7z"/><path d="M962 659.1 l5 -8 l5 8 l-5 7z"/><path d="M1005 659.2 l5 -8 l5 8 l-5 7z"/><path d="M1048 659.3 l5 -8 l5 8 l-5 7z"/><path d="M1091 659.4 l5 -8 l5 8 l-5 7z"/><path d="M1134 659.5 l5 -8 l5 8 l-5 7z"/><path d="M1177 659.7 l5 -8 l5 8 l-5 7z"/></g>
<polygon points="1243,656 1724,663.5 1716,681 1264,678.1" fill="url(#band)"/>
<g fill="#6fcadd" opacity="0.45" filter="url(#b3)"><ellipse cx="1259.8" cy="673.3" rx="11" ry="5.5"/><ellipse cx="1289.4" cy="673.7" rx="11" ry="5.5"/><ellipse cx="1319" cy="674.2" rx="11" ry="5.5"/><ellipse cx="1348.7" cy="674.6" rx="11" ry="5.5"/><ellipse cx="1378.3" cy="675" rx="11" ry="5.5"/><ellipse cx="1408" cy="675.5" rx="11" ry="5.5"/><ellipse cx="1437.6" cy="675.9" rx="11" ry="5.5"/><ellipse cx="1467.2" cy="676.3" rx="11" ry="5.5"/><ellipse cx="1496.9" cy="676.8" rx="11" ry="5.5"/><ellipse cx="1526.5" cy="677.2" rx="11" ry="5.5"/><ellipse cx="1556.1" cy="677.6" rx="11" ry="5.5"/><ellipse cx="1585.8" cy="678" rx="11" ry="5.5"/><ellipse cx="1615.4" cy="678.5" rx="11" ry="5.5"/><ellipse cx="1645.1" cy="678.9" rx="11" ry="5.5"/><ellipse cx="1674.7" cy="679.3" rx="11" ry="5.5"/><ellipse cx="1704.3" cy="679.8" rx="11" ry="5.5"/></g>
<g fill="#58c5dc" stroke="#20a8c8" stroke-width="1.6"><polygon points="1183.4,496.5 1188.2,492.2 1215.1,492.3 1224.6,496.6 1220.1,500.9 1192.6,500.9"/><polygon points="1227.5,496.6 1231.9,492.3 1258.9,492.3 1268.8,496.7 1264.7,501 1237.2,501"/><polygon points="1271.7,496.7 1275.7,492.4 1302.7,492.4 1312.9,496.7 1309.2,501.1 1281.8,501.1"/><polygon points="1315.9,496.7 1319.5,492.4 1346.5,492.5 1357.1,496.8 1353.8,501.2 1326.3,501.2"/><polygon points="1360,496.8 1363.3,492.5 1390.2,492.6 1401.3,496.9 1398.4,501.3 1370.9,501.3"/><polygon points="1404.2,496.9 1407,492.6 1434,492.6 1445.4,497 1442.9,501.5 1415.5,501.4"/><polygon points="1448.4,497 1450.8,492.7 1477.8,492.7 1489.6,497.1 1487.5,501.6 1460.1,501.5"/><polygon points="1492.5,497.1 1494.6,492.7 1521.6,492.8 1533.8,497.2 1532.1,501.7 1504.6,501.6"/><polygon points="1187.8,505.3 1192.6,500.9 1220.1,500.9 1229.8,505.4 1225.3,510 1197.3,509.9"/><polygon points="1232.8,505.4 1237.2,501 1264.7,501 1274.8,505.6 1270.7,510.1 1242.7,510"/><polygon points="1277.8,505.6 1281.8,501.1 1309.2,501.1 1319.7,505.7 1316.1,510.3 1288.1,510.2"/><polygon points="1322.7,505.7 1326.3,501.2 1353.8,501.2 1364.7,505.8 1361.5,510.4 1333.5,510.3"/><polygon points="1367.7,505.8 1370.9,501.3 1398.4,501.3 1409.7,505.9 1406.9,510.5 1378.9,510.5"/><polygon points="1412.7,505.9 1415.5,501.4 1442.9,501.5 1454.7,506 1452.3,510.7 1424.3,510.6"/><polygon points="1457.7,506 1460.1,501.5 1487.5,501.6 1499.7,506.2 1497.7,510.8 1469.7,510.7"/><polygon points="1502.7,506.2 1504.6,501.6 1532.1,501.7 1544.6,506.3 1543.1,511 1515.1,510.9"/><polygon points="1192.4,514.6 1197.3,509.9 1225.3,510 1235.2,514.7 1230.7,519.5 1202.2,519.4"/><polygon points="1238.3,514.7 1242.7,510 1270.7,510.1 1281,514.9 1276.9,519.6 1248.4,519.5"/><polygon points="1284.1,514.9 1288.1,510.2 1316.1,510.3 1326.9,515 1323.2,519.8 1294.7,519.7"/><polygon points="1329.9,515 1333.5,510.3 1361.5,510.4 1372.7,515.2 1369.5,520 1341,519.9"/><polygon points="1375.7,515.2 1378.9,510.5 1406.9,510.5 1418.5,515.3 1415.7,520.2 1387.2,520.1"/><polygon points="1421.6,515.3 1424.3,510.6 1452.3,510.7 1464.3,515.5 1462,520.3 1433.5,520.2"/><polygon points="1467.4,515.5 1469.7,510.7 1497.7,510.8 1510.2,515.6 1508.3,520.5 1479.8,520.4"/><polygon points="1513.2,515.6 1515.1,510.9 1543.1,511 1556,515.8 1554.5,520.7 1526,520.6"/><polygon points="1197.3,524.2 1202.2,519.4 1230.7,519.5 1240.9,524.4 1236.3,529.4 1207.3,529.3"/><polygon points="1244,524.4 1248.4,519.5 1276.9,519.6 1287.6,524.6 1283.5,529.6 1254.5,529.5"/><polygon points="1290.7,524.6 1294.7,519.7 1323.2,519.8 1334.3,524.8 1330.7,529.8 1301.6,529.7"/><polygon points="1337.4,524.8 1341,519.9 1369.5,520 1381,525 1377.9,530 1348.8,529.9"/><polygon points="1384.1,525 1387.2,520.1 1415.7,520.2 1427.7,525.2 1425,530.2 1396,530.1"/><polygon points="1430.9,525.2 1433.5,520.2 1462,520.3 1474.5,525.4 1472.2,530.5 1443.1,530.3"/><polygon points="1477.6,525.4 1479.8,520.4 1508.3,520.5 1521.2,525.6 1519.4,530.7 1490.3,530.5"/><polygon points="1524.3,525.6 1526,520.6 1554.5,520.7 1567.9,525.8 1566.5,530.9 1537.5,530.8"/><polygon points="1202.4,534.4 1207.3,529.3 1236.3,529.4 1246.8,534.6 1242.3,539.8 1212.6,539.7"/><polygon points="1250,534.6 1254.5,529.5 1283.5,529.6 1294.5,534.8 1290.4,540.1 1260.7,539.9"/><polygon points="1297.6,534.8 1301.6,529.7 1330.7,529.8 1342.1,535 1338.5,540.3 1308.9,540.2"/><polygon points="1345.3,535.1 1348.8,529.9 1377.9,530 1389.8,535.3 1386.6,540.6 1357,540.4"/><polygon points="1392.9,535.3 1396,530.1 1425,530.2 1437.4,535.5 1434.8,540.8 1405.1,540.7"/><polygon points="1440.6,535.5 1443.1,530.3 1472.2,530.5 1485,535.7 1482.9,541.1 1453.2,540.9"/><polygon points="1488.2,535.8 1490.3,530.5 1519.4,530.7 1532.7,536 1531,541.3 1501.4,541.2"/><polygon points="1535.9,536 1537.5,530.8 1566.5,530.9 1580.3,536.2 1579.1,541.6 1549.5,541.4"/><polygon points="1207.7,545 1212.6,539.7 1242.3,539.8 1253.1,545.3 1248.5,550.7 1218.2,550.6"/><polygon points="1256.3,545.3 1260.7,539.9 1290.4,540.1 1301.7,545.5 1297.6,551 1267.4,550.9"/><polygon points="1304.9,545.5 1308.9,540.2 1338.5,540.3 1350.3,545.8 1346.7,551.3 1316.5,551.2"/><polygon points="1353.5,545.8 1357,540.4 1386.6,540.6 1398.9,546.1 1395.9,551.6 1365.6,551.5"/><polygon points="1402.1,546.1 1405.1,540.7 1434.8,540.8 1447.5,546.4 1445,551.9 1414.7,551.8"/><polygon points="1450.8,546.4 1453.2,540.9 1482.9,541.1 1496.1,546.6 1494.1,552.2 1463.8,552.1"/><polygon points="1499.4,546.7 1501.4,541.2 1531,541.3 1544.7,546.9 1543.2,552.5 1513,552.4"/><polygon points="1548,546.9 1549.5,541.4 1579.1,541.6 1593.4,547.2 1592.3,552.8 1562.1,552.7"/><polygon points="1213.3,556.2 1218.2,550.6 1248.5,550.7 1259.6,556.5 1255,562.2 1224.1,562"/><polygon points="1262.9,556.5 1267.4,550.9 1297.6,551 1309.2,556.8 1305.2,562.6 1274.3,562.4"/><polygon points="1312.5,556.8 1316.5,551.2 1346.7,551.3 1358.9,557.1 1355.4,562.9 1324.5,562.7"/><polygon points="1362.2,557.1 1365.6,551.5 1395.9,551.6 1408.5,557.4 1405.5,563.3 1374.6,563.1"/><polygon points="1411.8,557.5 1414.7,551.8 1445,551.9 1458.1,557.8 1455.7,563.6 1424.8,563.4"/><polygon points="1461.5,557.8 1463.8,552.1 1494.1,552.2 1507.8,558.1 1505.9,564 1475,563.8"/><polygon points="1511.1,558.1 1513,552.4 1543.2,552.5 1557.4,558.4 1556,564.3 1525.1,564.1"/><polygon points="1560.7,558.4 1562.1,552.7 1592.3,552.8 1607.1,558.7 1606.2,564.7 1575.3,564.5"/><polygon points="1219.1,567.9 1224.1,562 1255,562.2 1266.5,568.3 1261.9,574.3 1230.3,574.1"/><polygon points="1269.8,568.3 1274.3,562.4 1305.2,562.6 1317.2,568.6 1313.2,574.7 1281.6,574.5"/><polygon points="1320.6,568.7 1324.5,562.7 1355.4,562.9 1367.9,569 1364.4,575.1 1332.8,574.9"/><polygon points="1371.3,569 1374.6,563.1 1405.5,563.3 1418.6,569.4 1415.7,575.5 1384.1,575.3"/><polygon points="1422,569.4 1424.8,563.4 1455.7,563.6 1469.3,569.8 1467,575.9 1435.4,575.7"/><polygon points="1472.7,569.8 1475,563.8 1505.9,564 1520,570.1 1518.2,576.3 1486.7,576.1"/><polygon points="1523.4,570.2 1525.1,564.1 1556,564.3 1570.7,570.5 1569.5,576.8 1537.9,576.5"/><polygon points="1574.1,570.5 1575.3,564.5 1606.2,564.7 1621.4,570.9 1620.8,577.2 1589.2,576.9"/><polygon points="1225.3,580.3 1230.3,574.1 1261.9,574.3 1273.7,580.7 1269.1,587.1 1236.8,586.8"/><polygon points="1277.1,580.7 1281.6,574.5 1313.2,574.7 1325.5,581.1 1321.6,587.5 1289.3,587.2"/><polygon points="1329,581.1 1332.8,574.9 1364.4,575.1 1377.4,581.5 1374,588 1341.7,587.7"/><polygon points="1380.8,581.6 1384.1,575.3 1415.7,575.5 1429.2,582 1426.4,588.5 1394.1,588.2"/><polygon points="1432.7,582 1435.4,575.7 1467,575.9 1481,582.4 1478.8,588.9 1446.5,588.6"/><polygon points="1484.5,582.4 1486.7,576.1 1518.2,576.3 1532.9,582.8 1531.3,589.4 1499,589.1"/><polygon points="1536.3,582.9 1537.9,576.5 1569.5,576.8 1584.7,583.3 1583.7,589.9 1551.4,589.6"/><polygon points="1588.2,583.3 1589.2,576.9 1620.8,577.2 1636.6,583.7 1636.1,590.3 1603.8,590"/><polygon points="1231.8,593.3 1236.8,586.8 1269.1,587.1 1281.3,593.8 1276.7,600.5 1243.7,600.2"/><polygon points="1284.8,593.8 1289.3,587.2 1321.6,587.5 1334.3,594.3 1330.4,601 1297.3,600.7"/><polygon points="1337.9,594.3 1341.7,587.7 1374,588 1387.4,594.8 1384,601.6 1351,601.2"/><polygon points="1390.9,594.8 1394.1,588.2 1426.4,588.5 1440.4,595.3 1437.7,602.1 1404.6,601.8"/><polygon points="1443.9,595.3 1446.5,588.6 1478.8,588.9 1493.4,595.8 1491.3,602.6 1458.3,602.3"/><polygon points="1497,595.8 1499,589.1 1531.3,589.4 1546.4,596.3 1545,603.2 1511.9,602.8"/><polygon points="1550,596.3 1551.4,589.6 1583.7,589.9 1599.5,596.8 1598.6,603.7 1565.6,603.4"/><polygon points="1603,596.8 1603.8,590 1636.1,590.3 1652.5,597.3 1652.3,604.2 1619.2,603.9"/><polygon points="1238.7,607.1 1243.7,600.2 1276.7,600.5 1289.3,607.6 1284.8,614.7 1251,614.4"/><polygon points="1292.9,607.6 1297.3,600.7 1330.4,601 1343.6,608.2 1339.7,615.3 1305.9,615"/><polygon points="1347.2,608.2 1351,601.2 1384,601.6 1397.9,608.7 1394.7,615.9 1360.8,615.6"/><polygon points="1401.5,608.8 1404.6,601.8 1437.7,602.1 1452.2,609.3 1449.6,616.5 1415.8,616.2"/><polygon points="1455.8,609.3 1458.3,602.3 1491.3,602.6 1506.5,609.9 1504.5,617.1 1470.7,616.8"/><polygon points="1510.1,609.9 1511.9,602.8 1545,603.2 1560.8,610.4 1559.5,617.7 1525.6,617.4"/><polygon points="1564.4,610.5 1565.6,603.4 1598.6,603.7 1615,611 1614.4,618.3 1580.6,618"/><polygon points="1618.7,611 1619.2,603.9 1652.3,604.2 1669.3,611.6 1669.4,618.9 1635.5,618.6"/><polygon points="1245.9,621.6 1251,614.4 1284.8,614.7 1297.8,622.2 1293.3,629.8 1258.6,629.4"/><polygon points="1301.5,622.3 1305.9,615 1339.7,615.3 1353.4,622.9 1349.6,630.5 1314.9,630"/><polygon points="1357.1,622.9 1360.8,615.6 1394.7,615.9 1409,623.5 1405.9,631.1 1371.2,630.7"/><polygon points="1412.7,623.6 1415.8,616.2 1449.6,616.5 1464.6,624.2 1462.2,631.8 1427.5,631.4"/><polygon points="1468.3,624.2 1470.7,616.8 1504.5,617.1 1520.3,624.8 1518.5,632.5 1483.8,632.1"/><polygon points="1524,624.8 1525.6,617.4 1559.5,617.7 1575.9,625.4 1574.8,633.2 1540.1,632.8"/><polygon points="1579.6,625.5 1580.6,618 1614.4,618.3 1631.5,626.1 1631.1,633.9 1596.4,633.4"/><polygon points="1635.2,626.1 1635.5,618.6 1669.4,618.9 1687.1,626.7 1687.4,634.5 1652.7,634.1"/><polygon points="1253.6,637.1 1258.6,629.4 1293.3,629.8 1306.8,637.7 1302.3,645.7 1266.7,645.3"/><polygon points="1310.6,637.8 1314.9,630 1349.6,630.5 1363.8,638.5 1360.1,646.5 1324.5,646"/><polygon points="1367.6,638.5 1371.2,630.7 1405.9,631.1 1420.8,639.2 1417.8,647.3 1382.2,646.8"/><polygon points="1424.6,639.2 1427.5,631.4 1462.2,631.8 1477.8,639.9 1475.5,648 1440,647.6"/><polygon points="1481.6,640 1483.8,632.1 1518.5,632.5 1534.8,640.6 1533.3,648.8 1497.7,648.3"/><polygon points="1538.6,640.7 1540.1,632.8 1574.8,633.2 1591.9,641.4 1591,649.6 1555.5,649.1"/><polygon points="1595.7,641.4 1596.4,633.4 1631.1,633.9 1648.9,642.1 1648.8,650.3 1613.2,649.9"/><polygon points="1652.7,642.1 1652.7,634.1 1687.4,634.5 1705.9,642.8 1706.5,651.1 1671,650.6"/><polygon points="1261.7,653.4 1266.7,645.3 1302.3,645.7 1316.3,654.2 1311.9,662.7 1275.4,662.1"/><polygon points="1320.2,654.3 1324.5,646 1360.1,646.5 1374.8,655 1371.1,663.5 1334.6,663"/><polygon points="1378.7,655.1 1382.2,646.8 1417.8,647.3 1433.3,655.8 1430.4,664.4 1393.9,663.9"/><polygon points="1437.2,655.9 1440,647.6 1475.5,648 1491.8,656.6 1489.7,665.3 1453.2,664.7"/><polygon points="1495.7,656.7 1497.7,648.3 1533.3,648.8 1550.3,657.5 1549,666.1 1512.5,665.6"/><polygon points="1554.2,657.5 1555.5,649.1 1591,649.6 1608.8,658.3 1608.3,667 1571.7,666.5"/><polygon points="1612.7,658.3 1613.2,649.9 1648.8,650.3 1667.3,659.1 1667.5,667.9 1631,667.3"/><polygon points="1671.2,659.1 1671,650.6 1706.5,651.1 1725.8,659.9 1726.8,668.7 1690.3,668.2"/></g>
<g fill="#66cbdf" stroke="#22aecc" stroke-width="1.6"><polygon points="1185.9,494.5 1190.7,490.2 1217.6,490.3 1227.1,494.6 1222.6,498.9 1195.1,498.9"/><polygon points="1230,494.6 1234.4,490.3 1261.4,490.3 1271.3,494.7 1267.2,499 1239.7,499"/><polygon points="1274.2,494.7 1278.2,490.4 1305.2,490.4 1315.4,494.7 1311.7,499.1 1284.3,499.1"/><polygon points="1318.4,494.7 1322,490.4 1349,490.5 1359.6,494.8 1356.3,499.2 1328.8,499.2"/><polygon points="1362.5,494.8 1365.8,490.5 1392.7,490.6 1403.8,494.9 1400.9,499.3 1373.4,499.3"/><polygon points="1406.7,494.9 1409.5,490.6 1436.5,490.6 1447.9,495 1445.4,499.5 1418,499.4"/><polygon points="1450.9,495 1453.3,490.7 1480.3,490.7 1492.1,495.1 1490,499.6 1462.6,499.5"/><polygon points="1495,495.1 1497.1,490.7 1524.1,490.8 1536.3,495.2 1534.6,499.7 1507.1,499.6"/><polygon points="1190.3,503.3 1195.1,498.9 1222.6,498.9 1232.3,503.4 1227.8,508 1199.8,507.9"/><polygon points="1235.3,503.4 1239.7,499 1267.2,499 1277.3,503.6 1273.2,508.1 1245.2,508"/><polygon points="1280.3,503.6 1284.3,499.1 1311.7,499.1 1322.2,503.7 1318.6,508.3 1290.6,508.2"/><polygon points="1325.2,503.7 1328.8,499.2 1356.3,499.2 1367.2,503.8 1364,508.4 1336,508.3"/><polygon points="1370.2,503.8 1373.4,499.3 1400.9,499.3 1412.2,503.9 1409.4,508.5 1381.4,508.5"/><polygon points="1415.2,503.9 1418,499.4 1445.4,499.5 1457.2,504 1454.8,508.7 1426.8,508.6"/><polygon points="1460.2,504 1462.6,499.5 1490,499.6 1502.2,504.2 1500.2,508.8 1472.2,508.7"/><polygon points="1505.2,504.2 1507.1,499.6 1534.6,499.7 1547.1,504.3 1545.6,509 1517.6,508.9"/><polygon points="1194.9,512.6 1199.8,507.9 1227.8,508 1237.7,512.7 1233.2,517.5 1204.7,517.4"/><polygon points="1240.8,512.7 1245.2,508 1273.2,508.1 1283.5,512.9 1279.4,517.6 1250.9,517.5"/><polygon points="1286.6,512.9 1290.6,508.2 1318.6,508.3 1329.4,513 1325.7,517.8 1297.2,517.7"/><polygon points="1332.4,513 1336,508.3 1364,508.4 1375.2,513.2 1372,518 1343.5,517.9"/><polygon points="1378.2,513.2 1381.4,508.5 1409.4,508.5 1421,513.3 1418.2,518.2 1389.7,518.1"/><polygon points="1424.1,513.3 1426.8,508.6 1454.8,508.7 1466.8,513.5 1464.5,518.3 1436,518.2"/><polygon points="1469.9,513.5 1472.2,508.7 1500.2,508.8 1512.7,513.6 1510.8,518.5 1482.3,518.4"/><polygon points="1515.7,513.6 1517.6,508.9 1545.6,509 1558.5,513.8 1557,518.7 1528.5,518.6"/><polygon points="1199.8,522.2 1204.7,517.4 1233.2,517.5 1243.4,522.4 1238.8,527.4 1209.8,527.3"/><polygon points="1246.5,522.4 1250.9,517.5 1279.4,517.6 1290.1,522.6 1286,527.6 1257,527.5"/><polygon points="1293.2,522.6 1297.2,517.7 1325.7,517.8 1336.8,522.8 1333.2,527.8 1304.1,527.7"/><polygon points="1339.9,522.8 1343.5,517.9 1372,518 1383.5,523 1380.4,528 1351.3,527.9"/><polygon points="1386.6,523 1389.7,518.1 1418.2,518.2 1430.2,523.2 1427.5,528.2 1398.5,528.1"/><polygon points="1433.4,523.2 1436,518.2 1464.5,518.3 1477,523.4 1474.7,528.5 1445.6,528.3"/><polygon points="1480.1,523.4 1482.3,518.4 1510.8,518.5 1523.7,523.6 1521.9,528.7 1492.8,528.5"/><polygon points="1526.8,523.6 1528.5,518.6 1557,518.7 1570.4,523.8 1569,528.9 1540,528.8"/><polygon points="1204.9,532.4 1209.8,527.3 1238.8,527.4 1249.3,532.6 1244.8,537.8 1215.1,537.7"/><polygon points="1252.5,532.6 1257,527.5 1286,527.6 1297,532.8 1292.9,538.1 1263.2,537.9"/><polygon points="1300.1,532.8 1304.1,527.7 1333.2,527.8 1344.6,533 1341,538.3 1311.4,538.2"/><polygon points="1347.8,533.1 1351.3,527.9 1380.4,528 1392.3,533.3 1389.1,538.6 1359.5,538.4"/><polygon points="1395.4,533.3 1398.5,528.1 1427.5,528.2 1439.9,533.5 1437.3,538.8 1407.6,538.7"/><polygon points="1443.1,533.5 1445.6,528.3 1474.7,528.5 1487.5,533.7 1485.4,539.1 1455.7,538.9"/><polygon points="1490.7,533.8 1492.8,528.5 1521.9,528.7 1535.2,534 1533.5,539.3 1503.9,539.2"/><polygon points="1538.4,534 1540,528.8 1569,528.9 1582.8,534.2 1581.6,539.6 1552,539.4"/><polygon points="1210.2,543 1215.1,537.7 1244.8,537.8 1255.6,543.3 1251,548.7 1220.7,548.6"/><polygon points="1258.8,543.3 1263.2,537.9 1292.9,538.1 1304.2,543.5 1300.1,549 1269.9,548.9"/><polygon points="1307.4,543.5 1311.4,538.2 1341,538.3 1352.8,543.8 1349.2,549.3 1319,549.2"/><polygon points="1356,543.8 1359.5,538.4 1389.1,538.6 1401.4,544.1 1398.4,549.6 1368.1,549.5"/><polygon points="1404.6,544.1 1407.6,538.7 1437.3,538.8 1450,544.4 1447.5,549.9 1417.2,549.8"/><polygon points="1453.3,544.4 1455.7,538.9 1485.4,539.1 1498.6,544.6 1496.6,550.2 1466.3,550.1"/><polygon points="1501.9,544.7 1503.9,539.2 1533.5,539.3 1547.2,544.9 1545.7,550.5 1515.5,550.4"/><polygon points="1550.5,544.9 1552,539.4 1581.6,539.6 1595.9,545.2 1594.8,550.8 1564.6,550.7"/><polygon points="1215.8,554.2 1220.7,548.6 1251,548.7 1262.1,554.5 1257.5,560.2 1226.6,560"/><polygon points="1265.4,554.5 1269.9,548.9 1300.1,549 1311.7,554.8 1307.7,560.6 1276.8,560.4"/><polygon points="1315,554.8 1319,549.2 1349.2,549.3 1361.4,555.1 1357.9,560.9 1327,560.7"/><polygon points="1364.7,555.1 1368.1,549.5 1398.4,549.6 1411,555.4 1408,561.3 1377.1,561.1"/><polygon points="1414.3,555.5 1417.2,549.8 1447.5,549.9 1460.6,555.8 1458.2,561.6 1427.3,561.4"/><polygon points="1464,555.8 1466.3,550.1 1496.6,550.2 1510.3,556.1 1508.4,562 1477.5,561.8"/><polygon points="1513.6,556.1 1515.5,550.4 1545.7,550.5 1559.9,556.4 1558.5,562.3 1527.6,562.1"/><polygon points="1563.2,556.4 1564.6,550.7 1594.8,550.8 1609.6,556.7 1608.7,562.7 1577.8,562.5"/><polygon points="1221.6,565.9 1226.6,560 1257.5,560.2 1269,566.3 1264.4,572.3 1232.8,572.1"/><polygon points="1272.3,566.3 1276.8,560.4 1307.7,560.6 1319.7,566.6 1315.7,572.7 1284.1,572.5"/><polygon points="1323.1,566.7 1327,560.7 1357.9,560.9 1370.4,567 1366.9,573.1 1335.3,572.9"/><polygon points="1373.8,567 1377.1,561.1 1408,561.3 1421.1,567.4 1418.2,573.5 1386.6,573.3"/><polygon points="1424.5,567.4 1427.3,561.4 1458.2,561.6 1471.8,567.8 1469.5,573.9 1437.9,573.7"/><polygon points="1475.2,567.8 1477.5,561.8 1508.4,562 1522.5,568.1 1520.7,574.3 1489.2,574.1"/><polygon points="1525.9,568.2 1527.6,562.1 1558.5,562.3 1573.2,568.5 1572,574.8 1540.4,574.5"/><polygon points="1576.6,568.5 1577.8,562.5 1608.7,562.7 1623.9,568.9 1623.3,575.2 1591.7,574.9"/><polygon points="1227.8,578.3 1232.8,572.1 1264.4,572.3 1276.2,578.7 1271.6,585.1 1239.3,584.8"/><polygon points="1279.6,578.7 1284.1,572.5 1315.7,572.7 1328,579.1 1324.1,585.5 1291.8,585.2"/><polygon points="1331.5,579.1 1335.3,572.9 1366.9,573.1 1379.9,579.5 1376.5,586 1344.2,585.7"/><polygon points="1383.3,579.6 1386.6,573.3 1418.2,573.5 1431.7,580 1428.9,586.5 1396.6,586.2"/><polygon points="1435.2,580 1437.9,573.7 1469.5,573.9 1483.5,580.4 1481.3,586.9 1449,586.6"/><polygon points="1487,580.4 1489.2,574.1 1520.7,574.3 1535.4,580.8 1533.8,587.4 1501.5,587.1"/><polygon points="1538.8,580.9 1540.4,574.5 1572,574.8 1587.2,581.3 1586.2,587.9 1553.9,587.6"/><polygon points="1590.7,581.3 1591.7,574.9 1623.3,575.2 1639.1,581.7 1638.6,588.3 1606.3,588"/><polygon points="1234.3,591.3 1239.3,584.8 1271.6,585.1 1283.8,591.8 1279.2,598.5 1246.2,598.2"/><polygon points="1287.3,591.8 1291.8,585.2 1324.1,585.5 1336.8,592.3 1332.9,599 1299.8,598.7"/><polygon points="1340.4,592.3 1344.2,585.7 1376.5,586 1389.9,592.8 1386.5,599.6 1353.5,599.2"/><polygon points="1393.4,592.8 1396.6,586.2 1428.9,586.5 1442.9,593.3 1440.2,600.1 1407.1,599.8"/><polygon points="1446.4,593.3 1449,586.6 1481.3,586.9 1495.9,593.8 1493.8,600.6 1460.8,600.3"/><polygon points="1499.5,593.8 1501.5,587.1 1533.8,587.4 1548.9,594.3 1547.5,601.2 1514.4,600.8"/><polygon points="1552.5,594.3 1553.9,587.6 1586.2,587.9 1602,594.8 1601.1,601.7 1568.1,601.4"/><polygon points="1605.5,594.8 1606.3,588 1638.6,588.3 1655,595.3 1654.8,602.2 1621.7,601.9"/><polygon points="1241.2,605.1 1246.2,598.2 1279.2,598.5 1291.8,605.6 1287.3,612.7 1253.5,612.4"/><polygon points="1295.4,605.6 1299.8,598.7 1332.9,599 1346.1,606.2 1342.2,613.3 1308.4,613"/><polygon points="1349.7,606.2 1353.5,599.2 1386.5,599.6 1400.4,606.7 1397.2,613.9 1363.3,613.6"/><polygon points="1404,606.8 1407.1,599.8 1440.2,600.1 1454.7,607.3 1452.1,614.5 1418.3,614.2"/><polygon points="1458.3,607.3 1460.8,600.3 1493.8,600.6 1509,607.9 1507,615.1 1473.2,614.8"/><polygon points="1512.6,607.9 1514.4,600.8 1547.5,601.2 1563.3,608.4 1562,615.7 1528.1,615.4"/><polygon points="1566.9,608.5 1568.1,601.4 1601.1,601.7 1617.5,609 1616.9,616.3 1583.1,616"/><polygon points="1621.2,609 1621.7,601.9 1654.8,602.2 1671.8,609.6 1671.9,616.9 1638,616.6"/><polygon points="1248.4,619.6 1253.5,612.4 1287.3,612.7 1300.3,620.2 1295.8,627.8 1261.1,627.4"/><polygon points="1304,620.3 1308.4,613 1342.2,613.3 1355.9,620.9 1352.1,628.5 1317.4,628"/><polygon points="1359.6,620.9 1363.3,613.6 1397.2,613.9 1411.5,621.5 1408.4,629.1 1373.7,628.7"/><polygon points="1415.2,621.6 1418.3,614.2 1452.1,614.5 1467.1,622.2 1464.7,629.8 1430,629.4"/><polygon points="1470.8,622.2 1473.2,614.8 1507,615.1 1522.8,622.8 1521,630.5 1486.3,630.1"/><polygon points="1526.5,622.8 1528.1,615.4 1562,615.7 1578.4,623.4 1577.3,631.2 1542.6,630.8"/><polygon points="1582.1,623.5 1583.1,616 1616.9,616.3 1634,624.1 1633.6,631.9 1598.9,631.4"/><polygon points="1637.7,624.1 1638,616.6 1671.9,616.9 1689.6,624.7 1689.9,632.5 1655.2,632.1"/><polygon points="1256.1,635.1 1261.1,627.4 1295.8,627.8 1309.3,635.7 1304.8,643.7 1269.2,643.3"/><polygon points="1313.1,635.8 1317.4,628 1352.1,628.5 1366.3,636.5 1362.6,644.5 1327,644"/><polygon points="1370.1,636.5 1373.7,628.7 1408.4,629.1 1423.3,637.2 1420.3,645.3 1384.7,644.8"/><polygon points="1427.1,637.2 1430,629.4 1464.7,629.8 1480.3,637.9 1478,646 1442.5,645.6"/><polygon points="1484.1,638 1486.3,630.1 1521,630.5 1537.3,638.6 1535.8,646.8 1500.2,646.3"/><polygon points="1541.1,638.7 1542.6,630.8 1577.3,631.2 1594.4,639.4 1593.5,647.6 1558,647.1"/><polygon points="1598.2,639.4 1598.9,631.4 1633.6,631.9 1651.4,640.1 1651.3,648.3 1615.7,647.9"/><polygon points="1655.2,640.1 1655.2,632.1 1689.9,632.5 1708.4,640.8 1709,649.1 1673.5,648.6"/><polygon points="1264.2,651.4 1269.2,643.3 1304.8,643.7 1318.8,652.2 1314.4,660.7 1277.9,660.1"/><polygon points="1322.7,652.3 1327,644 1362.6,644.5 1377.3,653 1373.6,661.5 1337.1,661"/><polygon points="1381.2,653.1 1384.7,644.8 1420.3,645.3 1435.8,653.8 1432.9,662.4 1396.4,661.9"/><polygon points="1439.7,653.9 1442.5,645.6 1478,646 1494.3,654.6 1492.2,663.3 1455.7,662.7"/><polygon points="1498.2,654.7 1500.2,646.3 1535.8,646.8 1552.8,655.5 1551.5,664.1 1515,663.6"/><polygon points="1556.7,655.5 1558,647.1 1593.5,647.6 1611.3,656.3 1610.8,665 1574.2,664.5"/><polygon points="1615.2,656.3 1615.7,647.9 1651.3,648.3 1669.8,657.1 1670,665.9 1633.5,665.3"/><polygon points="1673.7,657.1 1673.5,648.6 1709,649.1 1728.3,657.9 1729.3,666.7 1692.8,666.2"/></g>
<g fill="#74d0e1" stroke="#24b4d2" stroke-width="1.6"><polygon points="1188.6,492.3 1193.4,488 1220.3,488.1 1229.8,492.4 1225.3,496.7 1197.8,496.7"/><polygon points="1232.7,492.4 1237.1,488.1 1264.1,488.1 1274,492.5 1269.9,496.8 1242.4,496.8"/><polygon points="1276.9,492.5 1280.9,488.2 1307.9,488.2 1318.1,492.5 1314.4,496.9 1287,496.9"/><polygon points="1321.1,492.5 1324.7,488.2 1351.7,488.3 1362.3,492.6 1359,497 1331.5,497"/><polygon points="1365.2,492.6 1368.5,488.3 1395.4,488.4 1406.5,492.7 1403.6,497.1 1376.1,497.1"/><polygon points="1409.4,492.7 1412.2,488.4 1439.2,488.4 1450.6,492.8 1448.1,497.3 1420.7,497.2"/><polygon points="1453.6,492.8 1456,488.5 1483,488.5 1494.8,492.9 1492.7,497.4 1465.3,497.3"/><polygon points="1497.7,492.9 1499.8,488.5 1526.8,488.6 1539,493 1537.3,497.5 1509.8,497.4"/><polygon points="1193,501.1 1197.8,496.7 1225.3,496.7 1235,501.2 1230.5,505.8 1202.5,505.7"/><polygon points="1238,501.2 1242.4,496.8 1269.9,496.8 1280,501.4 1275.9,505.9 1247.9,505.8"/><polygon points="1283,501.4 1287,496.9 1314.4,496.9 1324.9,501.5 1321.3,506.1 1293.3,506"/><polygon points="1327.9,501.5 1331.5,497 1359,497 1369.9,501.6 1366.7,506.2 1338.7,506.1"/><polygon points="1372.9,501.6 1376.1,497.1 1403.6,497.1 1414.9,501.7 1412.1,506.3 1384.1,506.3"/><polygon points="1417.9,501.7 1420.7,497.2 1448.1,497.3 1459.9,501.8 1457.5,506.5 1429.5,506.4"/><polygon points="1462.9,501.8 1465.3,497.3 1492.7,497.4 1504.9,502 1502.9,506.6 1474.9,506.5"/><polygon points="1507.9,502 1509.8,497.4 1537.3,497.5 1549.8,502.1 1548.3,506.8 1520.3,506.7"/><polygon points="1197.6,510.4 1202.5,505.7 1230.5,505.8 1240.4,510.5 1235.9,515.3 1207.4,515.2"/><polygon points="1243.5,510.5 1247.9,505.8 1275.9,505.9 1286.2,510.7 1282.1,515.4 1253.6,515.3"/><polygon points="1289.3,510.7 1293.3,506 1321.3,506.1 1332.1,510.8 1328.4,515.6 1299.9,515.5"/><polygon points="1335.1,510.8 1338.7,506.1 1366.7,506.2 1377.9,511 1374.7,515.8 1346.2,515.7"/><polygon points="1380.9,511 1384.1,506.3 1412.1,506.3 1423.7,511.1 1420.9,516 1392.4,515.9"/><polygon points="1426.8,511.1 1429.5,506.4 1457.5,506.5 1469.5,511.3 1467.2,516.1 1438.7,516"/><polygon points="1472.6,511.3 1474.9,506.5 1502.9,506.6 1515.4,511.4 1513.5,516.3 1485,516.2"/><polygon points="1518.4,511.4 1520.3,506.7 1548.3,506.8 1561.2,511.6 1559.7,516.5 1531.2,516.4"/><polygon points="1202.5,520 1207.4,515.2 1235.9,515.3 1246.1,520.2 1241.5,525.2 1212.5,525.1"/><polygon points="1249.2,520.2 1253.6,515.3 1282.1,515.4 1292.8,520.4 1288.7,525.4 1259.7,525.3"/><polygon points="1295.9,520.4 1299.9,515.5 1328.4,515.6 1339.5,520.6 1335.9,525.6 1306.8,525.5"/><polygon points="1342.6,520.6 1346.2,515.7 1374.7,515.8 1386.2,520.8 1383.1,525.8 1354,525.7"/><polygon points="1389.3,520.8 1392.4,515.9 1420.9,516 1432.9,521 1430.2,526 1401.2,525.9"/><polygon points="1436.1,521 1438.7,516 1467.2,516.1 1479.7,521.2 1477.4,526.3 1448.3,526.1"/><polygon points="1482.8,521.2 1485,516.2 1513.5,516.3 1526.4,521.4 1524.6,526.5 1495.5,526.3"/><polygon points="1529.5,521.4 1531.2,516.4 1559.7,516.5 1573.1,521.6 1571.7,526.7 1542.7,526.6"/><polygon points="1207.6,530.2 1212.5,525.1 1241.5,525.2 1252,530.4 1247.5,535.6 1217.8,535.5"/><polygon points="1255.2,530.4 1259.7,525.3 1288.7,525.4 1299.7,530.6 1295.6,535.9 1265.9,535.7"/><polygon points="1302.8,530.6 1306.8,525.5 1335.9,525.6 1347.3,530.8 1343.7,536.1 1314.1,536"/><polygon points="1350.5,530.9 1354,525.7 1383.1,525.8 1395,531.1 1391.8,536.4 1362.2,536.2"/><polygon points="1398.1,531.1 1401.2,525.9 1430.2,526 1442.6,531.3 1440,536.6 1410.3,536.5"/><polygon points="1445.8,531.3 1448.3,526.1 1477.4,526.3 1490.2,531.5 1488.1,536.9 1458.4,536.7"/><polygon points="1493.4,531.6 1495.5,526.3 1524.6,526.5 1537.9,531.8 1536.2,537.1 1506.6,537"/><polygon points="1541.1,531.8 1542.7,526.6 1571.7,526.7 1585.5,532 1584.3,537.4 1554.7,537.2"/><polygon points="1212.9,540.8 1217.8,535.5 1247.5,535.6 1258.3,541.1 1253.7,546.5 1223.4,546.4"/><polygon points="1261.5,541.1 1265.9,535.7 1295.6,535.9 1306.9,541.3 1302.8,546.8 1272.6,546.7"/><polygon points="1310.1,541.3 1314.1,536 1343.7,536.1 1355.5,541.6 1351.9,547.1 1321.7,547"/><polygon points="1358.7,541.6 1362.2,536.2 1391.8,536.4 1404.1,541.9 1401.1,547.4 1370.8,547.3"/><polygon points="1407.3,541.9 1410.3,536.5 1440,536.6 1452.7,542.2 1450.2,547.7 1419.9,547.6"/><polygon points="1456,542.2 1458.4,536.7 1488.1,536.9 1501.3,542.4 1499.3,548 1469,547.9"/><polygon points="1504.6,542.5 1506.6,537 1536.2,537.1 1549.9,542.7 1548.4,548.3 1518.2,548.2"/><polygon points="1553.2,542.7 1554.7,537.2 1584.3,537.4 1598.6,543 1597.5,548.6 1567.3,548.5"/><polygon points="1218.5,552 1223.4,546.4 1253.7,546.5 1264.8,552.3 1260.2,558 1229.3,557.8"/><polygon points="1268.1,552.3 1272.6,546.7 1302.8,546.8 1314.4,552.6 1310.4,558.4 1279.5,558.2"/><polygon points="1317.7,552.6 1321.7,547 1351.9,547.1 1364.1,552.9 1360.6,558.7 1329.7,558.5"/><polygon points="1367.4,552.9 1370.8,547.3 1401.1,547.4 1413.7,553.2 1410.7,559.1 1379.8,558.9"/><polygon points="1417,553.3 1419.9,547.6 1450.2,547.7 1463.3,553.6 1460.9,559.4 1430,559.2"/><polygon points="1466.7,553.6 1469,547.9 1499.3,548 1513,553.9 1511.1,559.8 1480.2,559.6"/><polygon points="1516.3,553.9 1518.2,548.2 1548.4,548.3 1562.6,554.2 1561.2,560.1 1530.3,559.9"/><polygon points="1565.9,554.2 1567.3,548.5 1597.5,548.6 1612.3,554.5 1611.4,560.5 1580.5,560.3"/><polygon points="1224.3,563.7 1229.3,557.8 1260.2,558 1271.7,564.1 1267.1,570.1 1235.5,569.9"/><polygon points="1275,564.1 1279.5,558.2 1310.4,558.4 1322.4,564.4 1318.4,570.5 1286.8,570.3"/><polygon points="1325.8,564.5 1329.7,558.5 1360.6,558.7 1373.1,564.8 1369.6,570.9 1338,570.7"/><polygon points="1376.5,564.8 1379.8,558.9 1410.7,559.1 1423.8,565.2 1420.9,571.3 1389.3,571.1"/><polygon points="1427.2,565.2 1430,559.2 1460.9,559.4 1474.5,565.6 1472.2,571.7 1440.6,571.5"/><polygon points="1477.9,565.6 1480.2,559.6 1511.1,559.8 1525.2,565.9 1523.4,572.1 1491.9,571.9"/><polygon points="1528.6,566 1530.3,559.9 1561.2,560.1 1575.9,566.3 1574.7,572.6 1543.1,572.3"/><polygon points="1579.3,566.3 1580.5,560.3 1611.4,560.5 1626.6,566.7 1626,573 1594.4,572.7"/><polygon points="1230.5,576.1 1235.5,569.9 1267.1,570.1 1278.9,576.5 1274.3,582.9 1242,582.6"/><polygon points="1282.3,576.5 1286.8,570.3 1318.4,570.5 1330.7,576.9 1326.8,583.3 1294.5,583"/><polygon points="1334.2,576.9 1338,570.7 1369.6,570.9 1382.6,577.3 1379.2,583.8 1346.9,583.5"/><polygon points="1386,577.4 1389.3,571.1 1420.9,571.3 1434.4,577.8 1431.6,584.3 1399.3,584"/><polygon points="1437.9,577.8 1440.6,571.5 1472.2,571.7 1486.2,578.2 1484,584.7 1451.7,584.4"/><polygon points="1489.7,578.2 1491.9,571.9 1523.4,572.1 1538.1,578.6 1536.5,585.2 1504.2,584.9"/><polygon points="1541.5,578.7 1543.1,572.3 1574.7,572.6 1589.9,579.1 1588.9,585.7 1556.6,585.4"/><polygon points="1593.4,579.1 1594.4,572.7 1626,573 1641.8,579.5 1641.3,586.1 1609,585.8"/><polygon points="1237,589.1 1242,582.6 1274.3,582.9 1286.5,589.6 1281.9,596.3 1248.9,596"/><polygon points="1290,589.6 1294.5,583 1326.8,583.3 1339.5,590.1 1335.6,596.8 1302.5,596.5"/><polygon points="1343.1,590.1 1346.9,583.5 1379.2,583.8 1392.6,590.6 1389.2,597.4 1356.2,597"/><polygon points="1396.1,590.6 1399.3,584 1431.6,584.3 1445.6,591.1 1442.9,597.9 1409.8,597.6"/><polygon points="1449.1,591.1 1451.7,584.4 1484,584.7 1498.6,591.6 1496.5,598.4 1463.5,598.1"/><polygon points="1502.2,591.6 1504.2,584.9 1536.5,585.2 1551.6,592.1 1550.2,599 1517.1,598.6"/><polygon points="1555.2,592.1 1556.6,585.4 1588.9,585.7 1604.7,592.6 1603.8,599.5 1570.8,599.2"/><polygon points="1608.2,592.6 1609,585.8 1641.3,586.1 1657.7,593.1 1657.5,600 1624.4,599.7"/><polygon points="1243.9,602.9 1248.9,596 1281.9,596.3 1294.5,603.4 1290,610.5 1256.2,610.2"/><polygon points="1298.1,603.4 1302.5,596.5 1335.6,596.8 1348.8,604 1344.9,611.1 1311.1,610.8"/><polygon points="1352.4,604 1356.2,597 1389.2,597.4 1403.1,604.5 1399.9,611.7 1366,611.4"/><polygon points="1406.7,604.6 1409.8,597.6 1442.9,597.9 1457.4,605.1 1454.8,612.3 1421,612"/><polygon points="1461,605.1 1463.5,598.1 1496.5,598.4 1511.7,605.7 1509.7,612.9 1475.9,612.6"/><polygon points="1515.3,605.7 1517.1,598.6 1550.2,599 1566,606.2 1564.7,613.5 1530.8,613.2"/><polygon points="1569.6,606.3 1570.8,599.2 1603.8,599.5 1620.2,606.8 1619.6,614.1 1585.8,613.8"/><polygon points="1623.9,606.8 1624.4,599.7 1657.5,600 1674.5,607.4 1674.6,614.7 1640.7,614.4"/><polygon points="1251.1,617.4 1256.2,610.2 1290,610.5 1303,618 1298.5,625.6 1263.8,625.2"/><polygon points="1306.7,618.1 1311.1,610.8 1344.9,611.1 1358.6,618.7 1354.8,626.3 1320.1,625.8"/><polygon points="1362.3,618.7 1366,611.4 1399.9,611.7 1414.2,619.3 1411.1,626.9 1376.4,626.5"/><polygon points="1417.9,619.4 1421,612 1454.8,612.3 1469.8,620 1467.4,627.6 1432.7,627.2"/><polygon points="1473.5,620 1475.9,612.6 1509.7,612.9 1525.5,620.6 1523.7,628.3 1489,627.9"/><polygon points="1529.2,620.6 1530.8,613.2 1564.7,613.5 1581.1,621.2 1580,629 1545.3,628.6"/><polygon points="1584.8,621.3 1585.8,613.8 1619.6,614.1 1636.7,621.9 1636.3,629.7 1601.6,629.2"/><polygon points="1640.4,621.9 1640.7,614.4 1674.6,614.7 1692.3,622.5 1692.6,630.3 1657.9,629.9"/><polygon points="1258.8,632.9 1263.8,625.2 1298.5,625.6 1312,633.5 1307.5,641.5 1271.9,641.1"/><polygon points="1315.8,633.6 1320.1,625.8 1354.8,626.3 1369,634.3 1365.3,642.3 1329.7,641.8"/><polygon points="1372.8,634.3 1376.4,626.5 1411.1,626.9 1426,635 1423,643.1 1387.4,642.6"/><polygon points="1429.8,635 1432.7,627.2 1467.4,627.6 1483,635.7 1480.7,643.8 1445.2,643.4"/><polygon points="1486.8,635.8 1489,627.9 1523.7,628.3 1540,636.4 1538.5,644.6 1502.9,644.1"/><polygon points="1543.8,636.5 1545.3,628.6 1580,629 1597.1,637.2 1596.2,645.4 1560.7,644.9"/><polygon points="1600.9,637.2 1601.6,629.2 1636.3,629.7 1654.1,637.9 1654,646.1 1618.4,645.7"/><polygon points="1657.9,637.9 1657.9,629.9 1692.6,630.3 1711.1,638.6 1711.7,646.9 1676.2,646.4"/><polygon points="1266.9,649.2 1271.9,641.1 1307.5,641.5 1321.5,650 1317.1,658.5 1280.6,657.9"/><polygon points="1325.4,650.1 1329.7,641.8 1365.3,642.3 1380,650.8 1376.3,659.3 1339.8,658.8"/><polygon points="1383.9,650.9 1387.4,642.6 1423,643.1 1438.5,651.6 1435.6,660.2 1399.1,659.7"/><polygon points="1442.4,651.7 1445.2,643.4 1480.7,643.8 1497,652.4 1494.9,661.1 1458.4,660.5"/><polygon points="1500.9,652.5 1502.9,644.1 1538.5,644.6 1555.5,653.3 1554.2,661.9 1517.7,661.4"/><polygon points="1559.4,653.3 1560.7,644.9 1596.2,645.4 1614,654.1 1613.5,662.8 1576.9,662.3"/><polygon points="1617.9,654.1 1618.4,645.7 1654,646.1 1672.5,654.9 1672.7,663.7 1636.2,663.1"/><polygon points="1676.4,654.9 1676.2,646.4 1711.7,646.9 1731,655.7 1732,664.5 1695.5,664"/></g>
<polygon points="1197.4,487.2 1528.3,487.8 1733.1,663.7 1285,657.2" fill="#22b4d4"/>
<g fill="#acd8dc" stroke="#7fc2cc" stroke-width="0.9" stroke-linejoin="round"><polygon points="1191.4,490 1196.2,485.7 1223.1,485.8 1232.6,490.1 1228.1,494.4 1200.6,494.4"/><polygon points="1235.5,490.1 1239.9,485.8 1266.9,485.8 1276.8,490.2 1272.7,494.5 1245.2,494.5"/><polygon points="1279.7,490.2 1283.7,485.9 1310.7,485.9 1320.9,490.2 1317.2,494.6 1289.8,494.6"/><polygon points="1323.9,490.2 1327.5,485.9 1354.5,486 1365.1,490.3 1361.8,494.7 1334.3,494.7"/><polygon points="1368,490.3 1371.3,486 1398.2,486.1 1409.3,490.4 1406.4,494.8 1378.9,494.8"/><polygon points="1412.2,490.4 1415,486.1 1442,486.1 1453.4,490.5 1450.9,495 1423.5,494.9"/><polygon points="1456.4,490.5 1458.8,486.2 1485.8,486.2 1497.6,490.6 1495.5,495.1 1468.1,495"/><polygon points="1500.5,490.6 1502.6,486.2 1529.6,486.3 1541.8,490.7 1540.1,495.2 1512.6,495.1"/><polygon points="1195.8,498.8 1200.6,494.4 1228.1,494.4 1237.8,498.9 1233.3,503.5 1205.3,503.4"/><polygon points="1240.8,498.9 1245.2,494.5 1272.7,494.5 1282.8,499.1 1278.7,503.6 1250.7,503.5"/><polygon points="1285.8,499.1 1289.8,494.6 1317.2,494.6 1327.7,499.2 1324.1,503.8 1296.1,503.7"/><polygon points="1330.7,499.2 1334.3,494.7 1361.8,494.7 1372.7,499.3 1369.5,503.9 1341.5,503.8"/><polygon points="1375.7,499.3 1378.9,494.8 1406.4,494.8 1417.7,499.4 1414.9,504 1386.9,504"/><polygon points="1420.7,499.4 1423.5,494.9 1450.9,495 1462.7,499.5 1460.3,504.2 1432.3,504.1"/><polygon points="1465.7,499.5 1468.1,495 1495.5,495.1 1507.7,499.7 1505.7,504.3 1477.7,504.2"/><polygon points="1510.7,499.7 1512.6,495.1 1540.1,495.2 1552.6,499.8 1551.1,504.5 1523.1,504.4"/><polygon points="1200.4,508.1 1205.3,503.4 1233.3,503.5 1243.2,508.2 1238.7,513 1210.2,512.9"/><polygon points="1246.3,508.2 1250.7,503.5 1278.7,503.6 1289,508.4 1284.9,513.1 1256.4,513"/><polygon points="1292.1,508.4 1296.1,503.7 1324.1,503.8 1334.9,508.5 1331.2,513.3 1302.7,513.2"/><polygon points="1337.9,508.5 1341.5,503.8 1369.5,503.9 1380.7,508.7 1377.5,513.5 1349,513.4"/><polygon points="1383.7,508.7 1386.9,504 1414.9,504 1426.5,508.8 1423.7,513.7 1395.2,513.6"/><polygon points="1429.6,508.8 1432.3,504.1 1460.3,504.2 1472.3,509 1470,513.8 1441.5,513.7"/><polygon points="1475.4,509 1477.7,504.2 1505.7,504.3 1518.2,509.1 1516.3,514 1487.8,513.9"/><polygon points="1521.2,509.1 1523.1,504.4 1551.1,504.5 1564,509.3 1562.5,514.2 1534,514.1"/><polygon points="1205.3,517.7 1210.2,512.9 1238.7,513 1248.9,517.9 1244.3,522.9 1215.3,522.8"/><polygon points="1252,517.9 1256.4,513 1284.9,513.1 1295.6,518.1 1291.5,523.1 1262.5,523"/><polygon points="1298.7,518.1 1302.7,513.2 1331.2,513.3 1342.3,518.3 1338.7,523.3 1309.6,523.2"/><polygon points="1345.4,518.3 1349,513.4 1377.5,513.5 1389,518.5 1385.9,523.5 1356.8,523.4"/><polygon points="1392.1,518.5 1395.2,513.6 1423.7,513.7 1435.7,518.7 1433,523.7 1404,523.6"/><polygon points="1438.9,518.7 1441.5,513.7 1470,513.8 1482.5,518.9 1480.2,524 1451.1,523.8"/><polygon points="1485.6,518.9 1487.8,513.9 1516.3,514 1529.2,519.1 1527.4,524.2 1498.3,524"/><polygon points="1532.3,519.1 1534,514.1 1562.5,514.2 1575.9,519.3 1574.5,524.4 1545.5,524.3"/><polygon points="1210.4,527.9 1215.3,522.8 1244.3,522.9 1254.8,528.1 1250.3,533.3 1220.6,533.2"/><polygon points="1258,528.1 1262.5,523 1291.5,523.1 1302.5,528.3 1298.4,533.6 1268.7,533.4"/><polygon points="1305.6,528.3 1309.6,523.2 1338.7,523.3 1350.1,528.5 1346.5,533.8 1316.9,533.7"/><polygon points="1353.3,528.6 1356.8,523.4 1385.9,523.5 1397.8,528.8 1394.6,534.1 1365,533.9"/><polygon points="1400.9,528.8 1404,523.6 1433,523.7 1445.4,529 1442.8,534.3 1413.1,534.2"/><polygon points="1448.6,529 1451.1,523.8 1480.2,524 1493,529.2 1490.9,534.6 1461.2,534.4"/><polygon points="1496.2,529.3 1498.3,524 1527.4,524.2 1540.7,529.5 1539,534.8 1509.4,534.7"/><polygon points="1543.9,529.5 1545.5,524.3 1574.5,524.4 1588.3,529.7 1587.1,535.1 1557.5,534.9"/><polygon points="1215.7,538.5 1220.6,533.2 1250.3,533.3 1261.1,538.8 1256.5,544.2 1226.2,544.1"/><polygon points="1264.3,538.8 1268.7,533.4 1298.4,533.6 1309.7,539 1305.6,544.5 1275.4,544.4"/><polygon points="1312.9,539 1316.9,533.7 1346.5,533.8 1358.3,539.3 1354.7,544.8 1324.5,544.7"/><polygon points="1361.5,539.3 1365,533.9 1394.6,534.1 1406.9,539.6 1403.9,545.1 1373.6,545"/><polygon points="1410.1,539.6 1413.1,534.2 1442.8,534.3 1455.5,539.9 1453,545.4 1422.7,545.3"/><polygon points="1458.8,539.9 1461.2,534.4 1490.9,534.6 1504.1,540.1 1502.1,545.7 1471.8,545.6"/><polygon points="1507.4,540.2 1509.4,534.7 1539,534.8 1552.7,540.4 1551.2,546 1521,545.9"/><polygon points="1556,540.4 1557.5,534.9 1587.1,535.1 1601.4,540.7 1600.3,546.3 1570.1,546.2"/><polygon points="1221.3,549.7 1226.2,544.1 1256.5,544.2 1267.6,550 1263,555.7 1232.1,555.5"/><polygon points="1270.9,550 1275.4,544.4 1305.6,544.5 1317.2,550.3 1313.2,556.1 1282.3,555.9"/><polygon points="1320.5,550.3 1324.5,544.7 1354.7,544.8 1366.9,550.6 1363.4,556.4 1332.5,556.2"/><polygon points="1370.2,550.6 1373.6,545 1403.9,545.1 1416.5,550.9 1413.5,556.8 1382.6,556.6"/><polygon points="1419.8,551 1422.7,545.3 1453,545.4 1466.1,551.3 1463.7,557.1 1432.8,556.9"/><polygon points="1469.5,551.3 1471.8,545.6 1502.1,545.7 1515.8,551.6 1513.9,557.5 1483,557.3"/><polygon points="1519.1,551.6 1521,545.9 1551.2,546 1565.4,551.9 1564,557.8 1533.1,557.6"/><polygon points="1568.7,551.9 1570.1,546.2 1600.3,546.3 1615.1,552.2 1614.2,558.2 1583.3,558"/><polygon points="1227.1,561.4 1232.1,555.5 1263,555.7 1274.5,561.8 1269.9,567.8 1238.3,567.6"/><polygon points="1277.8,561.8 1282.3,555.9 1313.2,556.1 1325.2,562.1 1321.2,568.2 1289.6,568"/><polygon points="1328.6,562.2 1332.5,556.2 1363.4,556.4 1375.9,562.5 1372.4,568.6 1340.8,568.4"/><polygon points="1379.3,562.5 1382.6,556.6 1413.5,556.8 1426.6,562.9 1423.7,569 1392.1,568.8"/><polygon points="1430,562.9 1432.8,556.9 1463.7,557.1 1477.3,563.3 1475,569.4 1443.4,569.2"/><polygon points="1480.7,563.3 1483,557.3 1513.9,557.5 1528,563.6 1526.2,569.8 1494.7,569.6"/><polygon points="1531.4,563.7 1533.1,557.6 1564,557.8 1578.7,564 1577.5,570.3 1545.9,570"/><polygon points="1582.1,564 1583.3,558 1614.2,558.2 1629.4,564.4 1628.8,570.7 1597.2,570.4"/><polygon points="1233.3,573.8 1238.3,567.6 1269.9,567.8 1281.7,574.2 1277.1,580.6 1244.8,580.3"/><polygon points="1285.1,574.2 1289.6,568 1321.2,568.2 1333.5,574.6 1329.6,581 1297.3,580.7"/><polygon points="1337,574.6 1340.8,568.4 1372.4,568.6 1385.4,575 1382,581.5 1349.7,581.2"/><polygon points="1388.8,575.1 1392.1,568.8 1423.7,569 1437.2,575.5 1434.4,582 1402.1,581.7"/><polygon points="1440.7,575.5 1443.4,569.2 1475,569.4 1489,575.9 1486.8,582.4 1454.5,582.1"/><polygon points="1492.5,575.9 1494.7,569.6 1526.2,569.8 1540.9,576.3 1539.3,582.9 1507,582.6"/><polygon points="1544.3,576.4 1545.9,570 1577.5,570.3 1592.7,576.8 1591.7,583.4 1559.4,583.1"/><polygon points="1596.2,576.8 1597.2,570.4 1628.8,570.7 1644.6,577.2 1644.1,583.8 1611.8,583.5"/><polygon points="1239.8,586.8 1244.8,580.3 1277.1,580.6 1289.3,587.3 1284.7,594 1251.7,593.7"/><polygon points="1292.8,587.3 1297.3,580.7 1329.6,581 1342.3,587.8 1338.4,594.5 1305.3,594.2"/><polygon points="1345.9,587.8 1349.7,581.2 1382,581.5 1395.4,588.3 1392,595.1 1359,594.7"/><polygon points="1398.9,588.3 1402.1,581.7 1434.4,582 1448.4,588.8 1445.7,595.6 1412.6,595.3"/><polygon points="1451.9,588.8 1454.5,582.1 1486.8,582.4 1501.4,589.3 1499.3,596.1 1466.3,595.8"/><polygon points="1505,589.3 1507,582.6 1539.3,582.9 1554.4,589.8 1553,596.7 1519.9,596.3"/><polygon points="1558,589.8 1559.4,583.1 1591.7,583.4 1607.5,590.3 1606.6,597.2 1573.6,596.9"/><polygon points="1611,590.3 1611.8,583.5 1644.1,583.8 1660.5,590.8 1660.3,597.7 1627.2,597.4"/><polygon points="1246.7,600.6 1251.7,593.7 1284.7,594 1297.3,601.1 1292.8,608.2 1259,607.9"/><polygon points="1300.9,601.1 1305.3,594.2 1338.4,594.5 1351.6,601.7 1347.7,608.8 1313.9,608.5"/><polygon points="1355.2,601.7 1359,594.7 1392,595.1 1405.9,602.2 1402.7,609.4 1368.8,609.1"/><polygon points="1409.5,602.3 1412.6,595.3 1445.7,595.6 1460.2,602.8 1457.6,610 1423.8,609.7"/><polygon points="1463.8,602.8 1466.3,595.8 1499.3,596.1 1514.5,603.4 1512.5,610.6 1478.7,610.3"/><polygon points="1518.1,603.4 1519.9,596.3 1553,596.7 1568.8,603.9 1567.5,611.2 1533.6,610.9"/><polygon points="1572.4,604 1573.6,596.9 1606.6,597.2 1623,604.5 1622.4,611.8 1588.6,611.5"/><polygon points="1626.7,604.5 1627.2,597.4 1660.3,597.7 1677.3,605.1 1677.4,612.4 1643.5,612.1"/><polygon points="1253.9,615.1 1259,607.9 1292.8,608.2 1305.8,615.7 1301.3,623.3 1266.6,622.9"/><polygon points="1309.5,615.8 1313.9,608.5 1347.7,608.8 1361.4,616.4 1357.6,624 1322.9,623.5"/><polygon points="1365.1,616.4 1368.8,609.1 1402.7,609.4 1417,617 1413.9,624.6 1379.2,624.2"/><polygon points="1420.7,617.1 1423.8,609.7 1457.6,610 1472.6,617.7 1470.2,625.3 1435.5,624.9"/><polygon points="1476.3,617.7 1478.7,610.3 1512.5,610.6 1528.3,618.3 1526.5,626 1491.8,625.6"/><polygon points="1532,618.3 1533.6,610.9 1567.5,611.2 1583.9,618.9 1582.8,626.7 1548.1,626.3"/><polygon points="1587.6,619 1588.6,611.5 1622.4,611.8 1639.5,619.6 1639.1,627.4 1604.4,626.9"/><polygon points="1643.2,619.6 1643.5,612.1 1677.4,612.4 1695.1,620.2 1695.4,628 1660.7,627.6"/><polygon points="1261.6,630.6 1266.6,622.9 1301.3,623.3 1314.8,631.2 1310.3,639.2 1274.7,638.8"/><polygon points="1318.6,631.3 1322.9,623.5 1357.6,624 1371.8,632 1368.1,640 1332.5,639.5"/><polygon points="1375.6,632 1379.2,624.2 1413.9,624.6 1428.8,632.7 1425.8,640.8 1390.2,640.3"/><polygon points="1432.6,632.7 1435.5,624.9 1470.2,625.3 1485.8,633.4 1483.5,641.5 1448,641.1"/><polygon points="1489.6,633.5 1491.8,625.6 1526.5,626 1542.8,634.1 1541.3,642.3 1505.7,641.8"/><polygon points="1546.6,634.2 1548.1,626.3 1582.8,626.7 1599.9,634.9 1599,643.1 1563.5,642.6"/><polygon points="1603.7,634.9 1604.4,626.9 1639.1,627.4 1656.9,635.6 1656.8,643.8 1621.2,643.4"/><polygon points="1660.7,635.6 1660.7,627.6 1695.4,628 1713.9,636.3 1714.5,644.6 1679,644.1"/><polygon points="1269.7,646.9 1274.7,638.8 1310.3,639.2 1324.3,647.7 1319.9,656.2 1283.4,655.6"/><polygon points="1328.2,647.8 1332.5,639.5 1368.1,640 1382.8,648.5 1379.1,657 1342.6,656.5"/><polygon points="1386.7,648.6 1390.2,640.3 1425.8,640.8 1441.3,649.3 1438.4,657.9 1401.9,657.4"/><polygon points="1445.2,649.4 1448,641.1 1483.5,641.5 1499.8,650.1 1497.7,658.8 1461.2,658.2"/><polygon points="1503.7,650.2 1505.7,641.8 1541.3,642.3 1558.3,651 1557,659.6 1520.5,659.1"/><polygon points="1562.2,651 1563.5,642.6 1599,643.1 1616.8,651.8 1616.3,660.5 1579.7,660"/><polygon points="1620.7,651.8 1621.2,643.4 1656.8,643.8 1675.3,652.6 1675.5,661.4 1639,660.8"/><polygon points="1679.2,652.6 1679,644.1 1714.5,644.6 1733.8,653.4 1734.8,662.2 1698.3,661.7"/></g>
<g stroke="#1893b4" stroke-width="1.3" opacity="0.8"><path d="M1200.6 495.2 L1191.4 490.8"/><path d="M1245.2 495.3 L1235.5 490.9"/><path d="M1289.8 495.4 L1279.7 491"/><path d="M1334.3 495.5 L1323.9 491"/><path d="M1378.9 495.6 L1368 491.1"/><path d="M1423.5 495.7 L1412.2 491.2"/><path d="M1468.1 495.8 L1456.4 491.3"/><path d="M1512.6 495.9 L1500.5 491.4"/><path d="M1205.3 504.2 L1195.8 499.6"/><path d="M1250.7 504.3 L1240.8 499.7"/><path d="M1296.1 504.5 L1285.8 499.9"/><path d="M1341.5 504.6 L1330.7 500"/><path d="M1386.9 504.8 L1375.7 500.1"/><path d="M1432.3 504.9 L1420.7 500.2"/><path d="M1477.7 505 L1465.7 500.3"/><path d="M1523.1 505.2 L1510.7 500.5"/><path d="M1210.2 513.7 L1200.4 508.9"/><path d="M1256.4 513.8 L1246.3 509"/><path d="M1302.7 514 L1292.1 509.2"/><path d="M1349 514.2 L1337.9 509.3"/><path d="M1395.2 514.4 L1383.7 509.5"/><path d="M1441.5 514.5 L1429.6 509.6"/><path d="M1487.8 514.7 L1475.4 509.8"/><path d="M1534 514.9 L1521.2 509.9"/><path d="M1215.3 523.6 L1205.3 518.5"/><path d="M1262.5 523.8 L1252 518.7"/><path d="M1309.6 524 L1298.7 518.9"/><path d="M1356.8 524.2 L1345.4 519.1"/><path d="M1404 524.4 L1392.1 519.3"/><path d="M1451.1 524.6 L1438.9 519.5"/><path d="M1498.3 524.8 L1485.6 519.7"/><path d="M1545.5 525.1 L1532.3 519.9"/><path d="M1220.6 534 L1210.4 528.7"/><path d="M1268.7 534.2 L1258 528.9"/><path d="M1316.9 534.5 L1305.6 529.1"/><path d="M1365 534.7 L1353.3 529.4"/><path d="M1413.1 535 L1400.9 529.6"/><path d="M1461.2 535.2 L1448.6 529.8"/><path d="M1509.4 535.5 L1496.2 530.1"/><path d="M1557.5 535.7 L1543.9 530.3"/><path d="M1226.2 544.9 L1215.7 539.3"/><path d="M1275.4 545.2 L1264.3 539.6"/><path d="M1324.5 545.5 L1312.9 539.8"/><path d="M1373.6 545.8 L1361.5 540.1"/><path d="M1422.7 546.1 L1410.1 540.4"/><path d="M1471.8 546.4 L1458.8 540.7"/><path d="M1521 546.7 L1507.4 541"/><path d="M1570.1 547 L1556 541.2"/><path d="M1232.1 556.3 L1221.3 550.5"/><path d="M1282.3 556.7 L1270.9 550.8"/><path d="M1332.5 557 L1320.5 551.1"/><path d="M1382.6 557.4 L1370.2 551.4"/><path d="M1432.8 557.7 L1419.8 551.8"/><path d="M1483 558.1 L1469.5 552.1"/><path d="M1533.1 558.4 L1519.1 552.4"/><path d="M1583.3 558.8 L1568.7 552.7"/><path d="M1238.3 568.4 L1227.1 562.2"/><path d="M1289.6 568.8 L1277.8 562.6"/><path d="M1340.8 569.2 L1328.6 563"/><path d="M1392.1 569.6 L1379.3 563.3"/><path d="M1443.4 570 L1430 563.7"/><path d="M1494.7 570.4 L1480.7 564.1"/><path d="M1545.9 570.8 L1531.4 564.5"/><path d="M1597.2 571.2 L1582.1 564.8"/><path d="M1244.8 581.1 L1233.3 574.6"/><path d="M1297.3 581.5 L1285.1 575"/><path d="M1349.7 582 L1337 575.4"/><path d="M1402.1 582.5 L1388.8 575.9"/><path d="M1454.5 582.9 L1440.7 576.3"/><path d="M1507 583.4 L1492.5 576.7"/><path d="M1559.4 583.9 L1544.3 577.2"/><path d="M1611.8 584.3 L1596.2 577.6"/><path d="M1251.7 594.5 L1239.8 587.6"/><path d="M1305.3 595 L1292.8 588.1"/><path d="M1359 595.5 L1345.9 588.6"/><path d="M1412.6 596.1 L1398.9 589.1"/><path d="M1466.3 596.6 L1451.9 589.6"/><path d="M1519.9 597.1 L1505 590.1"/><path d="M1573.6 597.7 L1558 590.6"/><path d="M1627.2 598.2 L1611 591.1"/><path d="M1259 608.7 L1246.7 601.4"/><path d="M1313.9 609.3 L1300.9 601.9"/><path d="M1368.8 609.9 L1355.2 602.5"/><path d="M1423.8 610.5 L1409.5 603.1"/><path d="M1478.7 611.1 L1463.8 603.6"/><path d="M1533.6 611.7 L1518.1 604.2"/><path d="M1588.6 612.3 L1572.4 604.8"/><path d="M1643.5 612.9 L1626.7 605.3"/><path d="M1266.6 623.7 L1253.9 615.9"/><path d="M1322.9 624.3 L1309.5 616.6"/><path d="M1379.2 625 L1365.1 617.2"/><path d="M1435.5 625.7 L1420.7 617.9"/><path d="M1491.8 626.4 L1476.3 618.5"/><path d="M1548.1 627.1 L1532 619.1"/><path d="M1604.4 627.7 L1587.6 619.8"/><path d="M1660.7 628.4 L1643.2 620.4"/><path d="M1274.7 639.6 L1261.6 631.4"/><path d="M1332.5 640.3 L1318.6 632.1"/><path d="M1390.2 641.1 L1375.6 632.8"/><path d="M1448 641.9 L1432.6 633.5"/><path d="M1505.7 642.6 L1489.6 634.3"/><path d="M1563.5 643.4 L1546.6 635"/><path d="M1621.2 644.2 L1603.7 635.7"/><path d="M1679 644.9 L1660.7 636.4"/><path d="M1283.4 656.4 L1269.7 647.7"/><path d="M1342.6 657.3 L1328.2 648.6"/><path d="M1401.9 658.2 L1386.7 649.4"/><path d="M1461.2 659 L1445.2 650.2"/><path d="M1520.5 659.9 L1503.7 651"/><path d="M1579.7 660.8 L1562.2 651.8"/><path d="M1639 661.6 L1620.7 652.6"/><path d="M1698.3 662.5 L1679.2 653.4"/></g>
<polygon points="1340,487 1394,487 1455,660 1369,660" fill="#70808c" opacity="0.3"/>
</g>
<polygon points="989.1,528.1 1025.1,528.1 1052.1,556.7 1025.1,585.8 989.1,585.8 1016.7,556.7" fill="#e8e6e6"/>
<polygon points="1038,528.1 1074,528.1 1101,556.7 1074,585.8 1038,585.8 1065.6,556.7" fill="#d3d1d1"/>
<polygon points="1083.3,528.1 1119.3,528.1 1146.3,556.7 1119.3,585.8 1083.3,585.8 1110.9,556.7" fill="#b2afad"/>
<polygon points="1131.4,528.1 1167.4,528.1 1194.4,556.7 1167.4,585.8 1131.4,585.8 1159,556.7" fill="#7b7777"/>
<polygon points="1175.3,528.1 1211.3,528.1 1238.3,556.7 1211.3,585.8 1175.3,585.8 1202.9,556.7" fill="#434141"/>
<circle cx="181.4" cy="531.7" r="19" fill="url(#fl)" opacity="0.94" stroke="#6e706e" stroke-opacity="0.5" stroke-width="0.8"/>
<path d="M176.9 528.2 l2.5 -5.5 l2 3.5 l4.5 -3 l-2.5 5 l3 2.5 l-4.5 0.5 l-1 5 l-2.5 -4 l-4.5 1 l3 -3.5z" fill="#fff" opacity="0.95" filter="url(#b1)"/>
<circle cx="178.9" cy="528.7" r="2.2" fill="#fff"/>
<circle cx="324.4" cy="578" r="19" fill="url(#fl)" opacity="0.94" stroke="#6e706e" stroke-opacity="0.5" stroke-width="0.8"/>
<path d="M319.9 574.5 l2.5 -5.5 l2 3.5 l4.5 -3 l-2.5 5 l3 2.5 l-4.5 0.5 l-1 5 l-2.5 -4 l-4.5 1 l3 -3.5z" fill="#fff" opacity="0.95" filter="url(#b1)"/>
<circle cx="321.9" cy="575" r="2.2" fill="#fff"/>
<circle cx="443.5" cy="491.5" r="19" fill="url(#fl)" opacity="0.94" stroke="#6e706e" stroke-opacity="0.5" stroke-width="0.8"/>
<path d="M439 488 l2.5 -5.5 l2 3.5 l4.5 -3 l-2.5 5 l3 2.5 l-4.5 0.5 l-1 5 l-2.5 -4 l-4.5 1 l3 -3.5z" fill="#fff" opacity="0.95" filter="url(#b1)"/>
<circle cx="441" cy="488.5" r="2.2" fill="#fff"/>
<circle cx="745" cy="496.5" r="19" fill="url(#fl)" opacity="0.94" stroke="#6e706e" stroke-opacity="0.5" stroke-width="0.8"/>
<path d="M740.5 493 l2.5 -5.5 l2 3.5 l4.5 -3 l-2.5 5 l3 2.5 l-4.5 0.5 l-1 5 l-2.5 -4 l-4.5 1 l3 -3.5z" fill="#fff" opacity="0.95" filter="url(#b1)"/>
<circle cx="742.5" cy="493.5" r="2.2" fill="#fff"/>
<circle cx="894.5" cy="583.5" r="19" fill="url(#fl)" opacity="0.94" stroke="#6e706e" stroke-opacity="0.5" stroke-width="0.8"/>
<path d="M890 580 l2.5 -5.5 l2 3.5 l4.5 -3 l-2.5 5 l3 2.5 l-4.5 0.5 l-1 5 l-2.5 -4 l-4.5 1 l3 -3.5z" fill="#fff" opacity="0.95" filter="url(#b1)"/>
<circle cx="892" cy="580.5" r="2.2" fill="#fff"/>
<rect x="175.2" y="437" width="17.5" height="45" fill="url(#ar)"/>
<polygon points="166.5,481.5 201.5,481.5 184,499" fill="url(#arh)"/>
<rect x="315.2" y="455" width="17.5" height="72.5" fill="url(#ar)"/>
<polygon points="306.5,527 341.5,527 324,545.5" fill="url(#arh)"/>
<rect x="435.2" y="376" width="17.5" height="58.2" fill="url(#ar)"/>
<polygon points="426.5,433.7 461.5,433.7 444,451" fill="url(#arh)"/>
<rect x="737.8" y="398" width="17.5" height="48.1" fill="url(#ar)"/>
<polygon points="729,445.6 764,445.6 746.5,463.6" fill="url(#arh)"/>
<rect x="886" y="453" width="17.5" height="81.5" fill="url(#ar)"/>
<polygon points="877.2,534 912.2,534 894.7,552" fill="url(#arh)"/>
<g transform="translate(1134.6 357.3) rotate(15.8)">
<rect x="-8.5" y="-12" width="17" height="112.5" fill="url(#ar)"/><polygon points="-17.5,100 17.5,100 0,117.7" fill="url(#arh)"/></g>
<path d="M1106.6 412 L1140 382.6 M1120 377 L1130.6 418.6" stroke="#111" stroke-width="4" fill="none"/>
<rect x="1370" y="38" width="636" height="60.5" fill="#ddeef8"/>
<text x="1372" y="84" font-size="52.6" font-family="Liberation Serif, serif" font-weight="bold" fill="#0a0a0a" xml:space="preserve">Desolvation of  [Zn(H<tspan font-size="32.5" dy="11.6">2</tspan><tspan dy="-11.6">O)</tspan><tspan font-size="32.5" dy="11.6">6</tspan><tspan dy="-11.6">]</tspan><tspan font-size="32.5" dx="4" dy="-17.4">2+</tspan></text>
<rect x="1577" y="220" width="365" height="58" fill="#ddeef8"/>
<text x="1579.5" y="265.3" font-size="52.1" font-family="Liberation Serif, serif" font-weight="bold" fill="#0a0a0a">Zincophilic sites</text>
<text x="1570.6" y="308.9" font-size="30.5" font-family="Liberation Serif, serif" font-weight="bold" fill="#0a0a0a">(C=O, -NH<tspan font-size="20" dy="6">2</tspan><tspan dy="-6">, triazine groups)</tspan></text>
<rect x="1551" y="410" width="439" height="59" fill="#ddeef8"/>
<text x="1553.6" y="456.7" font-size="52.3" font-family="Liberation Serif, serif" font-weight="bold" fill="#0a0a0a">Uniform deposition</text>
<text x="461.8" y="570" font-size="58.3" font-family="Liberation Serif, serif" font-weight="bold" fill="#0a0a0a">3D diffusion</text>
<text x="746" y="744" font-size="57.8" font-family="Liberation Serif, serif" font-weight="bold" fill="#0a0a0a">Zn foil</text>
<text x="157" y="435.4" font-size="39" font-family="Liberation Serif, serif" font-weight="bold" fill="#d81a1a">Zn<tspan font-size="26" dy="-15">2+</tspan></text>
<text x="1299.4" y="582.8" font-size="51.8" font-family="Liberation Serif, serif" font-weight="bold" fill="#f2b41a">Zn(002)</text>
<text transform="translate(1149 423) rotate(20)" font-size="41" font-family="Liberation Serif, serif" font-weight="bold" fill="#d81a1a">H<tspan font-size="27" dy="10">2</tspan><tspan dy="-10">O</tspan></text>
<g id="mol">
<polygon points="226.3,244.7 254.5,249.5 252.8,259.3 219.5,264.7 191.3,259.9 193,250.1" fill="#b3d6f5"/><polygon points="607.3,255.7 635.5,260.5 633.8,270.3 600.5,275.7 572.3,270.9 574,261.1" fill="#b3d6f5"/><polygon points="988.3,266.7 1016.5,271.5 1014.8,281.3 981.5,286.7 953.3,281.9 955,272.1" fill="#b3d6f5"/><polygon points="1369.3,277.7 1397.5,282.5 1395.8,292.3 1362.5,297.7 1334.3,292.9 1336,283.1" fill="#b3d6f5"/><polygon points="437.9,215.7 467.7,220.5 463.8,230.5 430.1,235.7 400.3,230.9 404.2,220.9" fill="#f3c94f" stroke="#0a0a0a" stroke-width="2.4" stroke-linejoin="round"/><polygon points="818.9,227 848.7,231.8 844.8,241.8 811.1,247 781.3,242.2 785.2,232.2" fill="#f3c94f" stroke="#0a0a0a" stroke-width="2.4" stroke-linejoin="round"/><polygon points="1199.9,238.3 1229.7,243.1 1225.8,253.1 1192.1,258.3 1162.3,253.5 1166.2,243.5" fill="#f3c94f" stroke="#0a0a0a" stroke-width="2.4" stroke-linejoin="round"/><polygon points="120.4,313.1 92.2,308.3 93.9,298.5 127.2,293.1 155.4,297.9 153.7,307.7" fill="#b3d6f5"/><polygon points="502.3,324.6 474.1,319.8 475.8,310 509.1,304.6 537.3,309.4 535.6,319.2" fill="#b3d6f5"/><polygon points="884.2,336.1 856,331.3 857.7,321.5 891,316.1 919.2,320.9 917.5,330.7" fill="#b3d6f5"/><polygon points="1266.1,347.6 1237.9,342.8 1239.6,333 1272.9,327.6 1301.1,332.4 1299.4,342.2" fill="#b3d6f5"/><polygon points="295.7,354.4 265.9,349.6 269.8,339.6 303.5,334.4 333.3,339.2 329.4,349.2" fill="#f3c94f" stroke="#0a0a0a" stroke-width="2.4" stroke-linejoin="round"/><polygon points="676.7,365.4 646.9,360.6 650.8,350.6 684.5,345.4 714.3,350.2 710.4,360.2" fill="#f3c94f" stroke="#0a0a0a" stroke-width="2.4" stroke-linejoin="round"/><polygon points="1057.7,376.4 1027.9,371.6 1031.8,361.6 1065.5,356.4 1095.3,361.2 1091.4,371.2" fill="#f3c94f" stroke="#0a0a0a" stroke-width="2.4" stroke-linejoin="round"/>
<g stroke="#0a0a0a" stroke-width="2.7" stroke-linecap="round" fill="none"><path d="M227.2 252.4 L247.1 254.2" stroke-width="3.6"/><path d="M226.3 244.7 L247.8 248.4"/><path d="M253.3 256.2 L252.8 259.3"/><path d="M252.8 259.3 L226.2 263.6"/><path d="M212.8 263.6 L191.3 259.9"/><path d="M191.3 259.9 L191.8 256.8"/><path d="M199.7 249 L226.3 244.7"/><path d="M226.3 244.7 L227.5 240.8"/><path d="M222.8 233.3 L205.6 230.8"/><path d="M236.2 233.2 L256.6 229.7"/><path d="M252.8 259.3 L274.2 262.6"/><path d="M287.6 262.8 L308.5 260.2"/><path d="M191.3 259.9 L162.1 263.7"/><path d="M148.7 263.7 L132 261.4"/><path d="M608.2 263.4 L628.1 265.2" stroke-width="3.6"/><path d="M607.3 255.7 L628.8 259.4"/><path d="M634.3 267.2 L633.8 270.3"/><path d="M633.8 270.3 L607.2 274.6"/><path d="M593.8 274.6 L572.3 270.9"/><path d="M572.3 270.9 L572.8 267.8"/><path d="M580.7 260 L607.3 255.7"/><path d="M607.3 255.7 L608.5 251.8"/><path d="M603.8 244.3 L586.6 241.8"/><path d="M617.2 244.2 L637.6 240.7"/><path d="M633.8 270.3 L655.2 273.6"/><path d="M668.6 273.8 L689.5 271.2"/><path d="M572.3 270.9 L543.1 274.7"/><path d="M529.7 274.7 L513 272.4"/><path d="M989.2 274.4 L1009.1 276.2" stroke-width="3.6"/><path d="M988.3 266.7 L1009.8 270.4"/><path d="M1015.3 278.2 L1014.8 281.3"/><path d="M1014.8 281.3 L988.2 285.6"/><path d="M974.8 285.6 L953.3 281.9"/><path d="M953.3 281.9 L953.8 278.8"/><path d="M961.7 271 L988.3 266.7"/><path d="M988.3 266.7 L989.5 262.8"/><path d="M984.8 255.3 L967.6 252.8"/><path d="M998.2 255.2 L1018.6 251.7"/><path d="M1014.8 281.3 L1036.2 284.6"/><path d="M1049.6 284.8 L1070.5 282.2"/><path d="M953.3 281.9 L924.1 285.7"/><path d="M910.7 285.7 L894 283.4"/><path d="M1370.2 285.4 L1390.1 287.2" stroke-width="3.6"/><path d="M1369.3 277.7 L1390.8 281.4"/><path d="M1396.3 289.2 L1395.8 292.3"/><path d="M1395.8 292.3 L1369.2 296.6"/><path d="M1355.8 296.6 L1334.3 292.9"/><path d="M1334.3 292.9 L1334.8 289.8"/><path d="M1342.7 282 L1369.3 277.7"/><path d="M1369.3 277.7 L1370.5 273.8"/><path d="M1365.8 266.3 L1348.6 263.8"/><path d="M1379.2 266.2 L1399.6 262.7"/><path d="M1395.8 292.3 L1417.2 295.6"/><path d="M1430.6 295.8 L1451.5 293.2"/><path d="M1334.3 292.9 L1305.1 296.7"/><path d="M1291.7 296.7 L1275 294.4"/><path d="M430.7 227.6 L457.7 224.9" stroke-width="3.4"/><path d="M438 222.4 L443 226.3" stroke-width="2"/><circle cx="409.3" cy="226.9" r="1.5" fill="#0a0a0a" stroke="none"/><path d="M437.9 215.7 L444.2 204.1"/><path d="M444.5 201.8 L417.9 198.5 M443.9 206.4 L417.4 203.1"/><path d="M444.2 204.1 L468.2 200.9"/><path d="M400.3 230.9 L360 237.3"/><path d="M360 237.3 L340.6 232.9"/><path d="M326.5 232.4 L305.9 235.6"/><path d="M357.7 237.3 L357.7 239.7 M362.3 237.3 L362.3 239.7"/><path d="M463.8 230.5 L495.1 235.9"/><path d="M495.5 238.2 L521.2 233.8 M494.7 233.6 L520.4 229.2"/><path d="M495.1 235.9 L493 239.6"/><path d="M496.6 247 L513.9 249.8"/><path d="M811.7 238.9 L838.7 236.2" stroke-width="3.4"/><path d="M819 233.7 L824 237.6" stroke-width="2"/><circle cx="790.3" cy="238.2" r="1.5" fill="#0a0a0a" stroke="none"/><path d="M818.9 227 L825.2 215.4"/><path d="M825.5 213.1 L798.9 209.8 M824.9 217.7 L798.4 214.4"/><path d="M825.2 215.4 L849.2 212.2"/><path d="M781.3 242.2 L741 248.6"/><path d="M741 248.6 L721.6 244.2"/><path d="M707.5 243.7 L686.9 246.9"/><path d="M738.7 248.6 L738.7 251 M743.3 248.6 L743.3 251"/><path d="M844.8 241.8 L876.1 247.2"/><path d="M876.5 249.5 L902.2 245.1 M875.7 244.9 L901.4 240.5"/><path d="M876.1 247.2 L874 250.9"/><path d="M877.6 258.3 L894.9 261.1"/><path d="M1192.7 250.2 L1219.7 247.5" stroke-width="3.4"/><path d="M1200 245 L1205 248.9" stroke-width="2"/><circle cx="1171.3" cy="249.5" r="1.5" fill="#0a0a0a" stroke="none"/><path d="M1199.9 238.3 L1206.2 226.7"/><path d="M1206.5 224.4 L1179.9 221.1 M1205.9 229 L1179.4 225.7"/><path d="M1206.2 226.7 L1230.2 223.5"/><path d="M1162.3 253.5 L1122 259.9"/><path d="M1122 259.9 L1102.6 255.5"/><path d="M1088.5 255 L1067.9 258.2"/><path d="M1119.7 259.9 L1119.7 262.3 M1124.3 259.9 L1124.3 262.3"/><path d="M1225.8 253.1 L1257.1 258.5"/><path d="M1257.5 260.8 L1283.2 256.4 M1256.7 256.2 L1282.4 251.8"/><path d="M1257.1 258.5 L1255 262.2"/><path d="M1258.6 269.6 L1275.9 272.4"/><path d="M119.5 305.4 L99.6 303.6" stroke-width="3.6"/><path d="M120.4 313.1 L98.9 309.4"/><path d="M93.4 301.6 L93.9 298.5"/><path d="M93.9 298.5 L120.5 294.2"/><path d="M133.9 294.2 L155.4 297.9"/><path d="M155.4 297.9 L154.9 301"/><path d="M147 308.8 L120.4 313.1"/><path d="M120.4 313.1 L119.2 317"/><path d="M123.9 324.5 L141.1 327"/><path d="M110.5 324.6 L90.1 328.1"/><path d="M93.9 298.5 L72.5 295.2"/><path d="M59.1 295 L38.2 297.6"/><path d="M155.4 297.9 L184.6 294.1"/><path d="M198 294.1 L214.7 296.4"/><path d="M501.4 316.9 L481.5 315.1" stroke-width="3.6"/><path d="M502.3 324.6 L480.8 320.9"/><path d="M475.3 313.1 L475.8 310"/><path d="M475.8 310 L502.4 305.7"/><path d="M515.8 305.7 L537.3 309.4"/><path d="M537.3 309.4 L536.8 312.5"/><path d="M528.9 320.3 L502.3 324.6"/><path d="M502.3 324.6 L501.1 328.5"/><path d="M505.8 336 L523 338.5"/><path d="M492.4 336.1 L472 339.6"/><path d="M475.8 310 L454.4 306.7"/><path d="M441 306.5 L420.1 309.1"/><path d="M537.3 309.4 L566.5 305.6"/><path d="M579.9 305.6 L596.6 307.9"/><path d="M883.3 328.4 L863.4 326.6" stroke-width="3.6"/><path d="M884.2 336.1 L862.7 332.4"/><path d="M857.2 324.6 L857.7 321.5"/><path d="M857.7 321.5 L884.3 317.2"/><path d="M897.7 317.2 L919.2 320.9"/><path d="M919.2 320.9 L918.7 324"/><path d="M910.8 331.8 L884.2 336.1"/><path d="M884.2 336.1 L883 340"/><path d="M887.7 347.5 L904.9 350"/><path d="M874.3 347.6 L853.9 351.1"/><path d="M857.7 321.5 L836.3 318.2"/><path d="M822.9 318 L802 320.6"/><path d="M919.2 320.9 L948.4 317.1"/><path d="M961.8 317.1 L978.5 319.4"/><path d="M1265.2 339.9 L1245.3 338.1" stroke-width="3.6"/><path d="M1266.1 347.6 L1244.6 343.9"/><path d="M1239.1 336.1 L1239.6 333"/><path d="M1239.6 333 L1266.2 328.7"/><path d="M1279.6 328.7 L1301.1 332.4"/><path d="M1301.1 332.4 L1300.6 335.5"/><path d="M1292.7 343.3 L1266.1 347.6"/><path d="M1266.1 347.6 L1264.9 351.5"/><path d="M1269.6 359 L1286.8 361.5"/><path d="M1256.2 359.1 L1235.8 362.6"/><path d="M1239.6 333 L1218.2 329.7"/><path d="M1204.8 329.5 L1183.9 332.1"/><path d="M1301.1 332.4 L1330.3 328.6"/><path d="M1343.7 328.6 L1360.4 330.9"/><path d="M302.9 342.5 L275.9 345.2" stroke-width="3.4"/><path d="M295.6 347.7 L290.6 343.8" stroke-width="2"/><circle cx="324.3" cy="343.2" r="1.5" fill="#0a0a0a" stroke="none"/><path d="M295.7 354.4 L289.4 366"/><path d="M289.1 368.3 L315.7 371.6 M289.7 363.7 L316.2 367"/><path d="M289.4 366 L265.4 369.2"/><path d="M333.3 339.2 L373.6 332.8"/><path d="M373.6 332.8 L393 337.2"/><path d="M407.1 337.7 L427.7 334.5"/><path d="M375.9 332.8 L375.9 330.4 M371.3 332.8 L371.3 330.4"/><path d="M269.8 339.6 L238.5 334.2"/><path d="M238.1 331.9 L212.4 336.3 M238.9 336.5 L213.2 340.9"/><path d="M238.5 334.2 L240.6 330.5"/><path d="M237 323.1 L219.7 320.3"/><path d="M683.9 353.5 L656.9 356.2" stroke-width="3.4"/><path d="M676.6 358.7 L671.6 354.8" stroke-width="2"/><circle cx="705.3" cy="354.2" r="1.5" fill="#0a0a0a" stroke="none"/><path d="M676.7 365.4 L670.4 377"/><path d="M670.1 379.3 L696.7 382.6 M670.7 374.7 L697.2 378"/><path d="M670.4 377 L646.4 380.2"/><path d="M714.3 350.2 L754.6 343.8"/><path d="M754.6 343.8 L774 348.2"/><path d="M788.1 348.7 L808.7 345.5"/><path d="M756.9 343.8 L756.9 341.4 M752.3 343.8 L752.3 341.4"/><path d="M650.8 350.6 L619.5 345.2"/><path d="M619.1 342.9 L593.4 347.3 M619.9 347.5 L594.2 351.9"/><path d="M619.5 345.2 L621.6 341.5"/><path d="M618 334.1 L600.7 331.3"/><path d="M1064.9 364.5 L1037.9 367.2" stroke-width="3.4"/><path d="M1057.6 369.7 L1052.6 365.8" stroke-width="2"/><circle cx="1086.3" cy="365.2" r="1.5" fill="#0a0a0a" stroke="none"/><path d="M1057.7 376.4 L1051.4 388"/><path d="M1051.1 390.3 L1077.7 393.6 M1051.7 385.7 L1078.2 389"/><path d="M1051.4 388 L1027.4 391.2"/><path d="M1095.3 361.2 L1135.6 354.8"/><path d="M1135.6 354.8 L1155 359.2"/><path d="M1169.1 359.7 L1189.7 356.5"/><path d="M1137.9 354.8 L1137.9 352.4 M1133.3 354.8 L1133.3 352.4"/><path d="M1031.8 361.6 L1000.5 356.2"/><path d="M1000.1 353.9 L974.4 358.3 M1000.9 358.5 L975.2 362.9"/><path d="M1000.5 356.2 L1002.6 352.5"/><path d="M999 345.1 L981.7 342.3"/></g>
<g stroke="#3aa3c4" stroke-width="2.9" stroke-linecap="round" stroke-dasharray="0.1 5.6" fill="none"><path d="M262.7 247.2 L291.6 238.8"/><path d="M322.9 257.1 L351.8 249.2"/><path d="M536.2 232 L572.2 239.2"/><path d="M528.3 252.4 L565.7 259.5"/><path d="M162 309.3 L205.3 317.7"/><path d="M155.5 329.6 L197.4 338.1"/><path d="M381.7 320.5 L405.8 312.6"/><path d="M441.8 330.8 L466.1 322.6"/><path d="M643.7 258.2 L672.6 250.1"/><path d="M703.9 268.2 L732.8 260.4"/><path d="M917.2 243.2 L953.2 250.3"/><path d="M909.4 263.6 L946.6 270.6"/><path d="M544 320.8 L586.2 328.7"/><path d="M537.4 341.1 L578.4 349.1"/><path d="M762.7 331.7 L787.7 323.9"/><path d="M822.9 342 L847.9 333.9"/><path d="M1024.7 269.3 L1053.6 261.3"/><path d="M1084.9 279.2 L1113.8 271.7"/><path d="M1298.3 254.5 L1334.1 261.3"/><path d="M1290.4 274.9 L1327.6 281.6"/><path d="M925.9 332.2 L967.2 339.8"/><path d="M919.3 352.5 L959.4 360.2"/><path d="M1143.8 342.8 L1169.5 335.3"/><path d="M1203.9 353.1 L1229.8 345.3"/><path d="M212.6 269.7 L201.7 277.8"/><path d="M145 280 L134.1 288.1"/><path d="M593.8 280.9 L583.4 289.1"/><path d="M526.2 291.2 L515.8 299.4"/><path d="M975 292.1 L965.1 300.4"/><path d="M907.4 302.4 L897.5 310.7"/><path d="M1356.2 303.4 L1346.8 311.6"/><path d="M1288.6 313.7 L1279.2 321.9"/><path d="M1405.7 280.2 L1434.6 271.8"/></g>
<g font-family="Liberation Sans, sans-serif" font-weight="bold" font-size="15" text-anchor="middle"><text x="254.5" y="254.7" fill="#1b7ed4" font-style="italic">N</text><text x="219.5" y="269.9" fill="#1b7ed4" font-style="italic">N</text><text x="193" y="255.3" fill="#1b7ed4" font-style="italic">N</text><text x="229.5" y="239.5" fill="#1b7ed4" font-style="italic">N</text><text x="199.5" y="235.1" fill="#0a0a0a">H</text><text x="262.7" y="233.9" fill="#0a0a0a">H</text><text x="280.9" y="268.9" fill="#1b7ed4" font-style="italic">N</text><text x="314.7" y="264.6" fill="#0a0a0a">H</text><text x="278.3" y="279.6" fill="#0a0a0a">H</text><text x="155.4" y="269.8" fill="#1b7ed4" font-style="italic">N</text><text x="125.9" y="265.8" fill="#0a0a0a">H</text><text x="151.9" y="280.2" fill="#0a0a0a">H</text><text x="635.5" y="265.7" fill="#1b7ed4" font-style="italic">N</text><text x="600.5" y="280.9" fill="#1b7ed4" font-style="italic">N</text><text x="574" y="266.3" fill="#1b7ed4" font-style="italic">N</text><text x="610.5" y="250.5" fill="#1b7ed4" font-style="italic">N</text><text x="580.5" y="246.1" fill="#0a0a0a">H</text><text x="643.7" y="244.9" fill="#0a0a0a">H</text><text x="661.9" y="279.9" fill="#1b7ed4" font-style="italic">N</text><text x="695.7" y="275.6" fill="#0a0a0a">H</text><text x="659.3" y="290.6" fill="#0a0a0a">H</text><text x="536.4" y="280.8" fill="#1b7ed4" font-style="italic">N</text><text x="506.9" y="276.8" fill="#0a0a0a">H</text><text x="532.9" y="291.2" fill="#0a0a0a">H</text><text x="1016.5" y="276.7" fill="#1b7ed4" font-style="italic">N</text><text x="981.5" y="291.9" fill="#1b7ed4" font-style="italic">N</text><text x="955" y="277.3" fill="#1b7ed4" font-style="italic">N</text><text x="991.5" y="261.5" fill="#1b7ed4" font-style="italic">N</text><text x="961.5" y="257.1" fill="#0a0a0a">H</text><text x="1024.7" y="255.9" fill="#0a0a0a">H</text><text x="1042.9" y="290.9" fill="#1b7ed4" font-style="italic">N</text><text x="1076.7" y="286.6" fill="#0a0a0a">H</text><text x="1040.3" y="301.6" fill="#0a0a0a">H</text><text x="917.4" y="291.8" fill="#1b7ed4" font-style="italic">N</text><text x="887.9" y="287.8" fill="#0a0a0a">H</text><text x="913.9" y="302.2" fill="#0a0a0a">H</text><text x="1397.5" y="287.7" fill="#1b7ed4" font-style="italic">N</text><text x="1362.5" y="302.9" fill="#1b7ed4" font-style="italic">N</text><text x="1336" y="288.3" fill="#1b7ed4" font-style="italic">N</text><text x="1372.5" y="272.5" fill="#1b7ed4" font-style="italic">N</text><text x="1342.5" y="268.1" fill="#0a0a0a">H</text><text x="1405.7" y="266.9" fill="#0a0a0a">H</text><text x="1423.9" y="301.9" fill="#1b7ed4" font-style="italic">N</text><text x="1457.7" y="297.6" fill="#0a0a0a">H</text><text x="1421.3" y="312.6" fill="#0a0a0a">H</text><text x="1298.4" y="302.8" fill="#1b7ed4" font-style="italic">N</text><text x="1268.9" y="298.8" fill="#0a0a0a">H</text><text x="1294.9" y="313.2" fill="#0a0a0a">H</text><text x="410.5" y="205.4" fill="#f2a43a" font-size="15.5" stroke="#fdebcc" stroke-width="2.2" paint-order="stroke">O</text><text x="475.3" y="205.4" fill="#f2a43a" font-size="15.5" stroke="#fdebcc" stroke-width="2.2" paint-order="stroke">O</text><text x="479.9" y="194.3" fill="#0a0a0a">H</text><text x="333.6" y="236.8" fill="#f2a43a" font-size="15.5" stroke="#fdebcc" stroke-width="2.2" paint-order="stroke">O</text><text x="299.8" y="241.7" fill="#0a0a0a">H</text><text x="360" y="252.4" fill="#f2a43a" font-size="15.5" stroke="#fdebcc" stroke-width="2.2" paint-order="stroke">O</text><text x="527.9" y="235.8" fill="#f2a43a" font-size="15.5" stroke="#fdebcc" stroke-width="2.2" paint-order="stroke">O</text><text x="489.5" y="251.4" fill="#f2a43a" font-size="15.5" stroke="#fdebcc" stroke-width="2.2" paint-order="stroke">O</text><text x="520" y="256" fill="#0a0a0a">H</text><text x="791.5" y="216.7" fill="#f2a43a" font-size="15.5" stroke="#fdebcc" stroke-width="2.2" paint-order="stroke">O</text><text x="856.3" y="216.7" fill="#f2a43a" font-size="15.5" stroke="#fdebcc" stroke-width="2.2" paint-order="stroke">O</text><text x="860.9" y="205.6" fill="#0a0a0a">H</text><text x="714.6" y="248.1" fill="#f2a43a" font-size="15.5" stroke="#fdebcc" stroke-width="2.2" paint-order="stroke">O</text><text x="680.8" y="253" fill="#0a0a0a">H</text><text x="741" y="263.7" fill="#f2a43a" font-size="15.5" stroke="#fdebcc" stroke-width="2.2" paint-order="stroke">O</text><text x="908.9" y="247.1" fill="#f2a43a" font-size="15.5" stroke="#fdebcc" stroke-width="2.2" paint-order="stroke">O</text><text x="870.5" y="262.7" fill="#f2a43a" font-size="15.5" stroke="#fdebcc" stroke-width="2.2" paint-order="stroke">O</text><text x="901" y="267.3" fill="#0a0a0a">H</text><text x="1172.5" y="228" fill="#f2a43a" font-size="15.5" stroke="#fdebcc" stroke-width="2.2" paint-order="stroke">O</text><text x="1237.3" y="228" fill="#f2a43a" font-size="15.5" stroke="#fdebcc" stroke-width="2.2" paint-order="stroke">O</text><text x="1241.9" y="216.9" fill="#0a0a0a">H</text><text x="1095.6" y="259.4" fill="#f2a43a" font-size="15.5" stroke="#fdebcc" stroke-width="2.2" paint-order="stroke">O</text><text x="1061.8" y="264.3" fill="#0a0a0a">H</text><text x="1122" y="275" fill="#f2a43a" font-size="15.5" stroke="#fdebcc" stroke-width="2.2" paint-order="stroke">O</text><text x="1289.9" y="258.4" fill="#f2a43a" font-size="15.5" stroke="#fdebcc" stroke-width="2.2" paint-order="stroke">O</text><text x="1251.5" y="274" fill="#f2a43a" font-size="15.5" stroke="#fdebcc" stroke-width="2.2" paint-order="stroke">O</text><text x="1282" y="278.6" fill="#0a0a0a">H</text><text x="92.2" y="313.5" fill="#1b7ed4" font-style="italic">N</text><text x="127.2" y="298.3" fill="#1b7ed4" font-style="italic">N</text><text x="153.7" y="312.9" fill="#1b7ed4" font-style="italic">N</text><text x="117.2" y="328.7" fill="#1b7ed4" font-style="italic">N</text><text x="147.2" y="333.1" fill="#0a0a0a">H</text><text x="84" y="334.3" fill="#0a0a0a">H</text><text x="65.8" y="299.3" fill="#1b7ed4" font-style="italic">N</text><text x="32" y="303.6" fill="#0a0a0a">H</text><text x="68.4" y="288.6" fill="#0a0a0a">H</text><text x="191.3" y="298.4" fill="#1b7ed4" font-style="italic">N</text><text x="220.8" y="302.4" fill="#0a0a0a">H</text><text x="194.8" y="288" fill="#0a0a0a">H</text><text x="474.1" y="325" fill="#1b7ed4" font-style="italic">N</text><text x="509.1" y="309.8" fill="#1b7ed4" font-style="italic">N</text><text x="535.6" y="324.4" fill="#1b7ed4" font-style="italic">N</text><text x="499.1" y="340.2" fill="#1b7ed4" font-style="italic">N</text><text x="529.1" y="344.6" fill="#0a0a0a">H</text><text x="465.9" y="345.8" fill="#0a0a0a">H</text><text x="447.7" y="310.8" fill="#1b7ed4" font-style="italic">N</text><text x="413.9" y="315.1" fill="#0a0a0a">H</text><text x="450.3" y="300.1" fill="#0a0a0a">H</text><text x="573.2" y="309.9" fill="#1b7ed4" font-style="italic">N</text><text x="602.7" y="313.9" fill="#0a0a0a">H</text><text x="576.7" y="299.5" fill="#0a0a0a">H</text><text x="856" y="336.5" fill="#1b7ed4" font-style="italic">N</text><text x="891" y="321.3" fill="#1b7ed4" font-style="italic">N</text><text x="917.5" y="335.9" fill="#1b7ed4" font-style="italic">N</text><text x="881" y="351.7" fill="#1b7ed4" font-style="italic">N</text><text x="911" y="356.1" fill="#0a0a0a">H</text><text x="847.8" y="357.3" fill="#0a0a0a">H</text><text x="829.6" y="322.3" fill="#1b7ed4" font-style="italic">N</text><text x="795.8" y="326.6" fill="#0a0a0a">H</text><text x="832.2" y="311.6" fill="#0a0a0a">H</text><text x="955.1" y="321.4" fill="#1b7ed4" font-style="italic">N</text><text x="984.6" y="325.4" fill="#0a0a0a">H</text><text x="958.6" y="311" fill="#0a0a0a">H</text><text x="1237.9" y="348" fill="#1b7ed4" font-style="italic">N</text><text x="1272.9" y="332.8" fill="#1b7ed4" font-style="italic">N</text><text x="1299.4" y="347.4" fill="#1b7ed4" font-style="italic">N</text><text x="1262.9" y="363.2" fill="#1b7ed4" font-style="italic">N</text><text x="1292.9" y="367.6" fill="#0a0a0a">H</text><text x="1229.7" y="368.8" fill="#0a0a0a">H</text><text x="1211.5" y="333.8" fill="#1b7ed4" font-style="italic">N</text><text x="1177.7" y="338.1" fill="#0a0a0a">H</text><text x="1214.1" y="323.1" fill="#0a0a0a">H</text><text x="1337" y="332.9" fill="#1b7ed4" font-style="italic">N</text><text x="1366.5" y="336.9" fill="#0a0a0a">H</text><text x="1340.5" y="322.5" fill="#0a0a0a">H</text><text x="323.1" y="375.7" fill="#f2a43a" font-size="15.5" stroke="#fdebcc" stroke-width="2.2" paint-order="stroke">O</text><text x="258.3" y="375.7" fill="#f2a43a" font-size="15.5" stroke="#fdebcc" stroke-width="2.2" paint-order="stroke">O</text><text x="253.7" y="386.2" fill="#0a0a0a">H</text><text x="400" y="344.3" fill="#f2a43a" font-size="15.5" stroke="#fdebcc" stroke-width="2.2" paint-order="stroke">O</text><text x="433.8" y="338.8" fill="#0a0a0a">H</text><text x="373.6" y="328.7" fill="#f2a43a" font-size="15.5" stroke="#fdebcc" stroke-width="2.2" paint-order="stroke">O</text><text x="205.7" y="345.3" fill="#f2a43a" font-size="15.5" stroke="#fdebcc" stroke-width="2.2" paint-order="stroke">O</text><text x="244.1" y="329.7" fill="#f2a43a" font-size="15.5" stroke="#fdebcc" stroke-width="2.2" paint-order="stroke">O</text><text x="213.6" y="324.5" fill="#0a0a0a">H</text><text x="704.1" y="386.7" fill="#f2a43a" font-size="15.5" stroke="#fdebcc" stroke-width="2.2" paint-order="stroke">O</text><text x="639.3" y="386.7" fill="#f2a43a" font-size="15.5" stroke="#fdebcc" stroke-width="2.2" paint-order="stroke">O</text><text x="634.7" y="397.2" fill="#0a0a0a">H</text><text x="781" y="355.3" fill="#f2a43a" font-size="15.5" stroke="#fdebcc" stroke-width="2.2" paint-order="stroke">O</text><text x="814.8" y="349.8" fill="#0a0a0a">H</text><text x="754.6" y="339.7" fill="#f2a43a" font-size="15.5" stroke="#fdebcc" stroke-width="2.2" paint-order="stroke">O</text><text x="586.7" y="356.3" fill="#f2a43a" font-size="15.5" stroke="#fdebcc" stroke-width="2.2" paint-order="stroke">O</text><text x="625.1" y="340.7" fill="#f2a43a" font-size="15.5" stroke="#fdebcc" stroke-width="2.2" paint-order="stroke">O</text><text x="594.6" y="335.5" fill="#0a0a0a">H</text><text x="1085.1" y="397.7" fill="#f2a43a" font-size="15.5" stroke="#fdebcc" stroke-width="2.2" paint-order="stroke">O</text><text x="1020.3" y="397.7" fill="#f2a43a" font-size="15.5" stroke="#fdebcc" stroke-width="2.2" paint-order="stroke">O</text><text x="1015.7" y="408.2" fill="#0a0a0a">H</text><text x="1162" y="366.3" fill="#f2a43a" font-size="15.5" stroke="#fdebcc" stroke-width="2.2" paint-order="stroke">O</text><text x="1195.8" y="360.8" fill="#0a0a0a">H</text><text x="1135.6" y="350.7" fill="#f2a43a" font-size="15.5" stroke="#fdebcc" stroke-width="2.2" paint-order="stroke">O</text><text x="967.7" y="367.3" fill="#f2a43a" font-size="15.5" stroke="#fdebcc" stroke-width="2.2" paint-order="stroke">O</text><text x="1006.1" y="351.7" fill="#f2a43a" font-size="15.5" stroke="#fdebcc" stroke-width="2.2" paint-order="stroke">O</text><text x="975.6" y="346.5" fill="#0a0a0a">H</text><text x="1442.8" y="274.7" fill="#0a0a0a">H</text></g>
</g>
<circle cx="269.8" cy="306.6" r="18.8" fill="#454b53" opacity="0.5" filter="url(#b6)"/><g filter="url(#b3)"><circle cx="261.5" cy="305.1" r="15" fill="#4a78a4"/><circle cx="242.3" cy="289.1" r="10" fill="#d93a3e"/><circle cx="274.3" cy="289.9" r="10" fill="#d93a3e"/></g>
<circle cx="438.2" cy="273" r="18.8" fill="#454b53" opacity="0.5" filter="url(#b6)"/><g filter="url(#b3)"><circle cx="430" cy="271.5" r="15" fill="#4a78a4"/><circle cx="405.3" cy="267.5" r="10" fill="#d93a3e"/><circle cx="433.2" cy="250" r="10.5" fill="#d93a3e"/></g>
<circle cx="684.7" cy="321.7" r="9" fill="#454b53" opacity="0.5" filter="url(#b6)"/><g filter="url(#b1)"><circle cx="682.3" cy="321" r="7.2" fill="#4a78a4"/><circle cx="672.7" cy="311.5" r="5.3" fill="#d93a3e"/><circle cx="691.4" cy="315.5" r="5.3" fill="#d93a3e"/></g>
<circle cx="802.3" cy="294.7" r="10" fill="#454b53" opacity="0.5" filter="url(#b6)"/><g filter="url(#b1)"><circle cx="799.7" cy="293.9" r="8" fill="#4a78a4"/><circle cx="786.2" cy="288.3" r="5.8" fill="#d93a3e"/><circle cx="804.9" cy="284.3" r="6" fill="#d93a3e"/></g>
<circle cx="879" cy="282.5" r="16.9" fill="#454b53" opacity="0.5" filter="url(#b6)"/><g filter="url(#b3)"><circle cx="871.6" cy="281.1" r="13.5" fill="#4a78a4"/><circle cx="853.3" cy="271.5" r="10.5" fill="#d93a3e"/><circle cx="884.4" cy="265.9" r="9" fill="#d93a3e"/></g>
<circle cx="1159.2" cy="311.2" r="27.5" fill="#454b53" opacity="0.5" filter="url(#b6)"/><g filter="url(#b2)"><circle cx="1147.1" cy="309" r="22" fill="#4a78a4"/><circle cx="1125.5" cy="286.7" r="14.5" fill="#d93a3e"/><circle cx="1167" cy="293" r="14.5" fill="#d93a3e"/></g>
<circle cx="652" cy="252" r="34" fill="#7d8894" opacity="0.35" filter="url(#b6)"/>
<g filter="url(#b3)"><circle cx="622.7" cy="249" r="10.5" fill="#4a78a4" opacity="0.92"/><circle cx="645.5" cy="227.1" r="10.5" fill="#4a78a4" opacity="0.92"/><circle cx="668.4" cy="236.5" r="10.5" fill="#4a78a4" opacity="0.92"/><circle cx="677.7" cy="264.5" r="10.5" fill="#4a78a4" opacity="0.92"/><circle cx="613.3" cy="235.5" r="6.8" fill="#d8383c" opacity="0.92"/><circle cx="628.9" cy="222" r="6.8" fill="#d8383c" opacity="0.92"/><circle cx="650.7" cy="216.8" r="6.8" fill="#d8383c" opacity="0.92"/><circle cx="667.3" cy="222" r="6.8" fill="#d8383c" opacity="0.92"/><circle cx="683.9" cy="236.5" r="6.8" fill="#d8383c" opacity="0.92"/><circle cx="691.2" cy="256.2" r="6.8" fill="#d8383c" opacity="0.92"/><circle cx="682.9" cy="279" r="6.8" fill="#d8383c" opacity="0.92"/><circle cx="609.2" cy="258.3" r="6.8" fill="#d8383c" opacity="0.92"/></g>
<circle cx="649.7" cy="258.2" r="16.6" fill="url(#zn)"/><circle cx="652" cy="256" r="2.6" fill="#fff" opacity="0.9"/>
<circle cx="1262" cy="284" r="30" fill="#7d8894" opacity="0.3" filter="url(#b6)"/>
<g filter="url(#b3)"><circle cx="1235.8" cy="269.1" r="11.5" fill="#4a78a4" opacity="0.92"/><circle cx="1265.3" cy="285.1" r="11.5" fill="#4a78a4" opacity="0.92"/><circle cx="1221.4" cy="266.7" r="8" fill="#d8383c" opacity="0.92"/><circle cx="1235" cy="288.3" r="8" fill="#d8383c" opacity="0.92"/><circle cx="1255.7" cy="298.7" r="8" fill="#d8383c" opacity="0.92"/><circle cx="1282" cy="296.3" r="8" fill="#d8383c" opacity="0.92"/></g>
<circle cx="1266.1" cy="253.9" r="19.2" fill="url(#zn)"/><circle cx="1263.5" cy="248.5" r="3" fill="#fff" opacity="0.9"/>
<path d="M1294.8 230 L1459 114" stroke="#0a0a0a" stroke-width="5.8" stroke-dasharray="17 8" fill="none"/>
<path d="M1401.4 284 L1550 266" stroke="#0a0a0a" stroke-width="5.8" stroke-dasharray="17 8" fill="none"/>
<path d="M1402 510.7 L1537.7 452" stroke="#0a0a0a" stroke-width="5.8" stroke-dasharray="17 8" fill="none"/>
<circle cx="1294.8" cy="230" r="8.6" fill="#0a0a0a"/>
<circle cx="1401.4" cy="284" r="8.6" fill="#0a0a0a"/>
<circle cx="1402" cy="510.7" r="8.6" fill="#0a0a0a"/></svg></body></html>
